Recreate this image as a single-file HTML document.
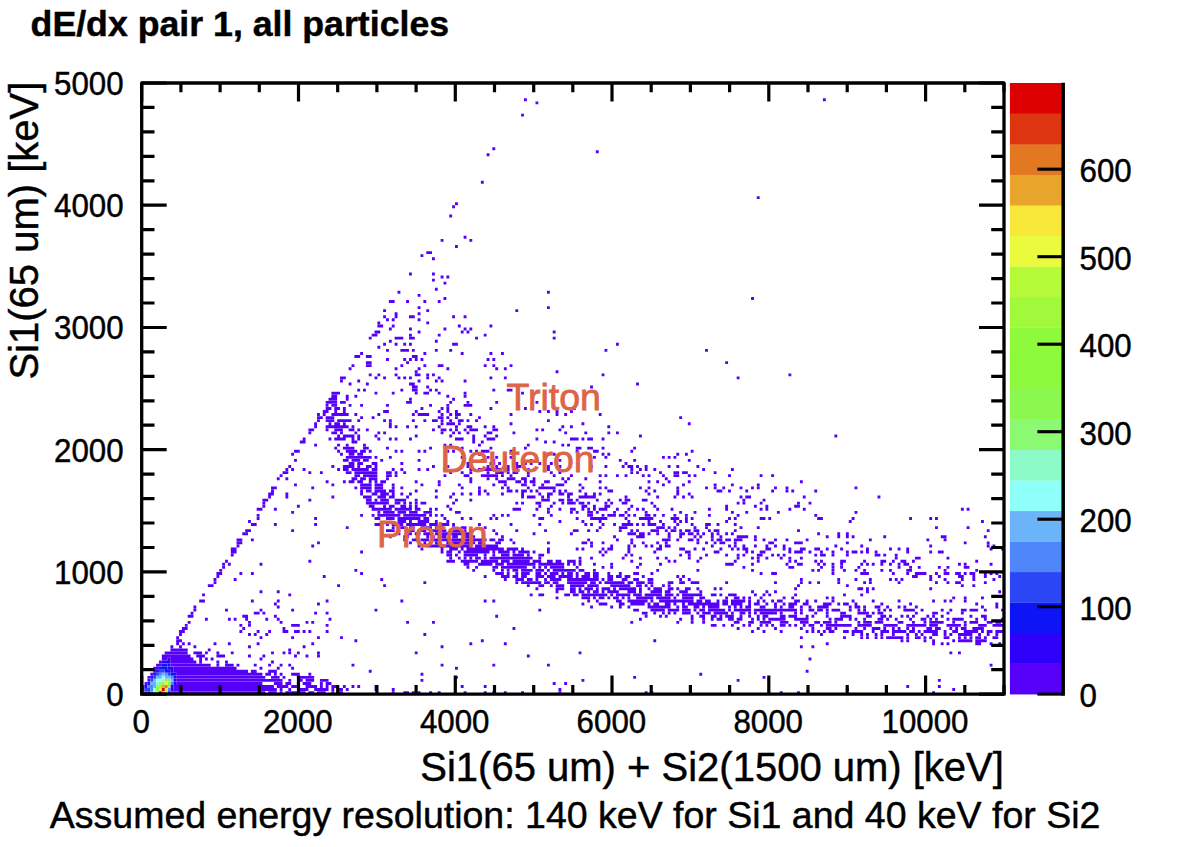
<!DOCTYPE html>
<html><head><meta charset="utf-8"><title>dE/dx pair 1, all particles</title>
<style>html,body{margin:0;padding:0;background:#fff;}svg{display:block;}text{font-family:"Liberation Sans",sans-serif;fill:#000;stroke:#000;stroke-width:0.45px;}</style></head><body>
<svg width="1181" height="847" viewBox="0 0 1181 847">
<rect x="0" y="0" width="1181" height="847" fill="#fff"/>
<g shape-rendering="auto">
<path fill="#5600FA" d="M141.70 691.17h2.87v2.90h-2.87zM170.44 691.17h94.85v2.90h-94.85zM268.17 691.17h8.62v2.90h-8.62zM279.67 691.17h2.87v2.90h-2.87zM285.42 691.17h20.12v2.90h-20.12zM308.41 691.17h5.75v2.90h-5.75zM317.03 691.17h8.62v2.90h-8.62zM331.41 691.17h2.87v2.90h-2.87zM337.15 691.17h5.75v2.90h-5.75zM391.77 691.17h2.87v2.90h-2.87zM403.26 691.17h5.75v2.90h-5.75zM411.89 691.17h2.87v2.90h-2.87zM417.64 691.17h2.87v2.90h-2.87zM429.13 691.17h2.87v2.90h-2.87zM437.76 691.17h2.87v2.90h-2.87zM463.63 691.17h2.87v2.90h-2.87zM483.75 691.17h2.87v2.90h-2.87zM492.37 691.17h2.87v2.90h-2.87zM503.87 691.17h2.87v2.90h-2.87zM521.11 691.17h2.87v2.90h-2.87zM558.48 691.17h2.87v2.90h-2.87zM644.71 691.17h2.87v2.90h-2.87zM650.46 691.17h2.87v2.90h-2.87zM779.80 691.17h2.87v2.90h-2.87zM797.05 691.17h2.87v2.90h-2.87zM932.14 691.17h2.87v2.90h-2.87zM141.70 688.12h2.87v2.90h-2.87zM173.32 688.12h103.48v2.90h-103.48zM279.67 688.12h2.87v2.90h-2.87zM288.29 688.12h2.87v2.90h-2.87zM299.79 688.12h8.62v2.90h-8.62zM314.16 688.12h14.37v2.90h-14.37zM331.41 688.12h2.87v2.90h-2.87zM337.15 688.12h5.75v2.90h-5.75zM345.78 688.12h2.87v2.90h-2.87zM374.52 688.12h2.87v2.90h-2.87zM391.77 688.12h2.87v2.90h-2.87zM558.48 688.12h2.87v2.90h-2.87zM845.91 688.12h2.87v2.90h-2.87zM952.26 688.12h2.87v2.90h-2.87zM141.70 685.06h2.87v2.90h-2.87zM173.32 685.06h100.60v2.90h-100.60zM276.79 685.06h11.50v2.90h-11.50zM291.17 685.06h5.75v2.90h-5.75zM305.54 685.06h11.50v2.90h-11.50zM319.91 685.06h2.87v2.90h-2.87zM325.66 685.06h2.87v2.90h-2.87zM331.41 685.06h5.75v2.90h-5.75zM342.90 685.06h2.87v2.90h-2.87zM351.53 685.06h2.87v2.90h-2.87zM357.27 685.06h2.87v2.90h-2.87zM374.52 685.06h2.87v2.90h-2.87zM460.75 685.06h2.87v2.90h-2.87zM483.75 685.06h2.87v2.90h-2.87zM906.27 685.06h2.87v2.90h-2.87zM937.89 685.06h2.87v2.90h-2.87zM144.57 682.01h2.87v2.90h-2.87zM176.19 682.01h86.23v2.90h-86.23zM273.92 682.01h8.62v2.90h-8.62zM285.42 682.01h5.75v2.90h-5.75zM296.91 682.01h2.87v2.90h-2.87zM302.66 682.01h8.62v2.90h-8.62zM319.91 682.01h2.87v2.90h-2.87zM325.66 682.01h5.75v2.90h-5.75zM552.73 682.01h2.87v2.90h-2.87zM564.23 682.01h2.87v2.90h-2.87zM147.45 678.95h2.87v2.90h-2.87zM176.19 678.95h106.35v2.90h-106.35zM288.29 678.95h2.87v2.90h-2.87zM299.79 678.95h2.87v2.90h-2.87zM305.54 678.95h8.62v2.90h-8.62zM319.91 678.95h8.62v2.90h-8.62zM420.51 678.95h2.87v2.90h-2.87zM581.47 678.95h2.87v2.90h-2.87zM736.69 678.95h2.87v2.90h-2.87zM937.89 678.95h2.87v2.90h-2.87zM147.45 675.90h2.87v2.90h-2.87zM176.19 675.90h89.10v2.90h-89.10zM271.04 675.90h8.62v2.90h-8.62zM282.54 675.90h2.87v2.90h-2.87zM296.91 675.90h17.25v2.90h-17.25zM455.00 675.90h2.87v2.90h-2.87zM633.21 675.90h2.87v2.90h-2.87zM762.56 675.90h2.87v2.90h-2.87zM150.32 672.84h2.87v2.90h-2.87zM176.19 672.84h86.23v2.90h-86.23zM265.30 672.84h5.75v2.90h-5.75zM273.92 672.84h2.87v2.90h-2.87zM279.67 672.84h2.87v2.90h-2.87zM291.17 672.84h8.62v2.90h-8.62zM308.41 672.84h2.87v2.90h-2.87zM420.51 672.84h2.87v2.90h-2.87zM699.32 672.84h2.87v2.90h-2.87zM153.20 669.78h2.87v2.90h-2.87zM173.32 669.78h74.73v2.90h-74.73zM250.92 669.78h5.75v2.90h-5.75zM268.17 669.78h8.62v2.90h-8.62zM368.77 669.78h2.87v2.90h-2.87zM805.67 669.78h2.87v2.90h-2.87zM153.20 666.73h5.75v2.90h-5.75zM173.32 666.73h63.24v2.90h-63.24zM259.55 666.73h2.87v2.90h-2.87zM276.79 666.73h2.87v2.90h-2.87zM291.17 666.73h2.87v2.90h-2.87zM455.00 666.73h2.87v2.90h-2.87zM156.07 663.67h5.75v2.90h-5.75zM170.44 663.67h40.24v2.90h-40.24zM216.43 663.67h2.87v2.90h-2.87zM225.06 663.67h8.62v2.90h-8.62zM236.55 663.67h2.87v2.90h-2.87zM253.80 663.67h2.87v2.90h-2.87zM268.17 663.67h2.87v2.90h-2.87zM279.67 663.67h2.87v2.90h-2.87zM288.29 663.67h2.87v2.90h-2.87zM351.53 663.67h2.87v2.90h-2.87zM440.63 663.67h2.87v2.90h-2.87zM492.37 663.67h2.87v2.90h-2.87zM546.98 663.67h2.87v2.90h-2.87zM989.63 663.67h2.87v2.90h-2.87zM158.95 660.62h2.87v2.90h-2.87zM170.44 660.62h25.87v2.90h-25.87zM199.19 660.62h2.87v2.90h-2.87zM216.43 660.62h2.87v2.90h-2.87zM225.06 660.62h2.87v2.90h-2.87zM271.04 660.62h2.87v2.90h-2.87zM161.82 657.56h5.75v2.90h-5.75zM170.44 657.56h22.99v2.90h-22.99zM199.19 657.56h2.87v2.90h-2.87zM204.94 657.56h2.87v2.90h-2.87zM210.68 657.56h2.87v2.90h-2.87zM259.55 657.56h2.87v2.90h-2.87zM808.55 657.56h2.87v2.90h-2.87zM161.82 654.51h28.74v2.90h-28.74zM196.31 654.51h8.62v2.90h-8.62zM216.43 654.51h8.62v2.90h-8.62zM248.05 654.51h2.87v2.90h-2.87zM262.42 654.51h2.87v2.90h-2.87zM294.04 654.51h2.87v2.90h-2.87zM305.54 654.51h2.87v2.90h-2.87zM317.03 654.51h2.87v2.90h-2.87zM526.86 654.51h2.87v2.90h-2.87zM164.69 651.45h22.99v2.90h-22.99zM193.44 651.45h8.62v2.90h-8.62zM204.94 651.45h2.87v2.90h-2.87zM216.43 651.45h2.87v2.90h-2.87zM230.80 651.45h2.87v2.90h-2.87zM271.04 651.45h2.87v2.90h-2.87zM282.54 651.45h2.87v2.90h-2.87zM288.29 651.45h2.87v2.90h-2.87zM296.91 651.45h2.87v2.90h-2.87zM317.03 651.45h2.87v2.90h-2.87zM414.76 651.45h2.87v2.90h-2.87zM578.60 651.45h2.87v2.90h-2.87zM949.39 651.45h2.87v2.90h-2.87zM958.01 651.45h2.87v2.90h-2.87zM170.44 648.39h17.25v2.90h-17.25zM207.81 648.39h2.87v2.90h-2.87zM288.29 648.39h2.87v2.90h-2.87zM170.44 645.34h2.87v2.90h-2.87zM179.07 645.34h2.87v2.90h-2.87zM193.44 645.34h2.87v2.90h-2.87zM248.05 645.34h2.87v2.90h-2.87zM302.66 645.34h2.87v2.90h-2.87zM440.63 645.34h2.87v2.90h-2.87zM799.92 645.34h2.87v2.90h-2.87zM811.42 645.34h2.87v2.90h-2.87zM176.19 642.28h2.87v2.90h-2.87zM181.94 642.28h2.87v2.90h-2.87zM187.69 642.28h2.87v2.90h-2.87zM213.56 642.28h2.87v2.90h-2.87zM227.93 642.28h2.87v2.90h-2.87zM256.67 642.28h2.87v2.90h-2.87zM311.29 642.28h2.87v2.90h-2.87zM469.37 642.28h2.87v2.90h-2.87zM503.87 642.28h2.87v2.90h-2.87zM825.79 642.28h2.87v2.90h-2.87zM932.14 642.28h2.87v2.90h-2.87zM940.76 642.28h2.87v2.90h-2.87zM946.51 642.28h2.87v2.90h-2.87zM975.26 642.28h5.75v2.90h-5.75zM989.63 642.28h2.87v2.90h-2.87zM998.25 642.28h2.87v2.90h-2.87zM176.19 639.23h5.75v2.90h-5.75zM354.40 639.23h2.87v2.90h-2.87zM480.87 639.23h2.87v2.90h-2.87zM653.33 639.23h2.87v2.90h-2.87zM900.52 639.23h2.87v2.90h-2.87zM906.27 639.23h2.87v2.90h-2.87zM923.52 639.23h2.87v2.90h-2.87zM932.14 639.23h2.87v2.90h-2.87zM952.26 639.23h2.87v2.90h-2.87zM958.01 639.23h14.37v2.90h-14.37zM975.26 639.23h11.50v2.90h-11.50zM176.19 636.17h2.87v2.90h-2.87zM259.55 636.17h2.87v2.90h-2.87zM291.17 636.17h2.87v2.90h-2.87zM317.03 636.17h2.87v2.90h-2.87zM340.03 636.17h2.87v2.90h-2.87zM799.92 636.17h2.87v2.90h-2.87zM843.04 636.17h2.87v2.90h-2.87zM860.28 636.17h2.87v2.90h-2.87zM866.03 636.17h2.87v2.90h-2.87zM874.65 636.17h2.87v2.90h-2.87zM880.40 636.17h2.87v2.90h-2.87zM886.15 636.17h17.25v2.90h-17.25zM906.27 636.17h2.87v2.90h-2.87zM914.90 636.17h5.75v2.90h-5.75zM923.52 636.17h2.87v2.90h-2.87zM929.27 636.17h2.87v2.90h-2.87zM943.64 636.17h5.75v2.90h-5.75zM958.01 636.17h2.87v2.90h-2.87zM963.76 636.17h2.87v2.90h-2.87zM969.51 636.17h2.87v2.90h-2.87zM975.26 636.17h5.75v2.90h-5.75zM983.88 636.17h2.87v2.90h-2.87zM992.50 636.17h5.75v2.90h-5.75zM179.07 633.12h2.87v2.90h-2.87zM248.05 633.12h2.87v2.90h-2.87zM253.80 633.12h2.87v2.90h-2.87zM265.30 633.12h2.87v2.90h-2.87zM423.38 633.12h2.87v2.90h-2.87zM820.04 633.12h2.87v2.90h-2.87zM851.66 633.12h2.87v2.90h-2.87zM860.28 633.12h2.87v2.90h-2.87zM866.03 633.12h2.87v2.90h-2.87zM874.65 633.12h2.87v2.90h-2.87zM880.40 633.12h2.87v2.90h-2.87zM891.90 633.12h2.87v2.90h-2.87zM906.27 633.12h2.87v2.90h-2.87zM914.90 633.12h2.87v2.90h-2.87zM920.64 633.12h2.87v2.90h-2.87zM932.14 633.12h5.75v2.90h-5.75zM943.64 633.12h2.87v2.90h-2.87zM949.39 633.12h2.87v2.90h-2.87zM958.01 633.12h14.37v2.90h-14.37zM978.13 633.12h2.87v2.90h-2.87zM986.75 633.12h2.87v2.90h-2.87zM995.38 633.12h2.87v2.90h-2.87zM179.07 630.06h5.75v2.90h-5.75zM239.43 630.06h2.87v2.90h-2.87zM256.67 630.06h2.87v2.90h-2.87zM268.17 630.06h2.87v2.90h-2.87zM282.54 630.06h5.75v2.90h-5.75zM294.04 630.06h5.75v2.90h-5.75zM302.66 630.06h2.87v2.90h-2.87zM308.41 630.06h2.87v2.90h-2.87zM325.66 630.06h2.87v2.90h-2.87zM751.06 630.06h2.87v2.90h-2.87zM762.56 630.06h2.87v2.90h-2.87zM779.80 630.06h2.87v2.90h-2.87zM805.67 630.06h2.87v2.90h-2.87zM811.42 630.06h2.87v2.90h-2.87zM817.17 630.06h2.87v2.90h-2.87zM822.92 630.06h2.87v2.90h-2.87zM828.67 630.06h5.75v2.90h-5.75zM843.04 630.06h5.75v2.90h-5.75zM851.66 630.06h11.50v2.90h-11.50zM871.78 630.06h2.87v2.90h-2.87zM880.40 630.06h8.62v2.90h-8.62zM891.90 630.06h14.37v2.90h-14.37zM909.15 630.06h5.75v2.90h-5.75zM917.77 630.06h2.87v2.90h-2.87zM923.52 630.06h14.37v2.90h-14.37zM943.64 630.06h2.87v2.90h-2.87zM952.26 630.06h5.75v2.90h-5.75zM963.76 630.06h14.37v2.90h-14.37zM981.01 630.06h2.87v2.90h-2.87zM986.75 630.06h5.75v2.90h-5.75zM995.38 630.06h8.62v2.90h-8.62zM181.94 627.00h5.75v2.90h-5.75zM242.30 627.00h2.87v2.90h-2.87zM282.54 627.00h2.87v2.90h-2.87zM512.49 627.00h2.87v2.90h-2.87zM736.69 627.00h2.87v2.90h-2.87zM756.81 627.00h2.87v2.90h-2.87zM774.05 627.00h2.87v2.90h-2.87zM799.92 627.00h2.87v2.90h-2.87zM811.42 627.00h2.87v2.90h-2.87zM825.79 627.00h5.75v2.90h-5.75zM834.41 627.00h2.87v2.90h-2.87zM854.53 627.00h2.87v2.90h-2.87zM863.16 627.00h2.87v2.90h-2.87zM871.78 627.00h8.62v2.90h-8.62zM883.28 627.00h2.87v2.90h-2.87zM891.90 627.00h2.87v2.90h-2.87zM897.65 627.00h2.87v2.90h-2.87zM906.27 627.00h2.87v2.90h-2.87zM912.02 627.00h2.87v2.90h-2.87zM926.39 627.00h5.75v2.90h-5.75zM935.02 627.00h5.75v2.90h-5.75zM949.39 627.00h2.87v2.90h-2.87zM955.14 627.00h2.87v2.90h-2.87zM960.88 627.00h5.75v2.90h-5.75zM972.38 627.00h11.50v2.90h-11.50zM184.81 623.95h2.87v2.90h-2.87zM239.43 623.95h2.87v2.90h-2.87zM248.05 623.95h2.87v2.90h-2.87zM291.17 623.95h8.62v2.90h-8.62zM325.66 623.95h2.87v2.90h-2.87zM710.82 623.95h5.75v2.90h-5.75zM722.32 623.95h2.87v2.90h-2.87zM730.94 623.95h2.87v2.90h-2.87zM742.44 623.95h2.87v2.90h-2.87zM748.18 623.95h2.87v2.90h-2.87zM759.68 623.95h2.87v2.90h-2.87zM765.43 623.95h2.87v2.90h-2.87zM771.18 623.95h2.87v2.90h-2.87zM779.80 623.95h5.75v2.90h-5.75zM788.42 623.95h2.87v2.90h-2.87zM794.17 623.95h2.87v2.90h-2.87zM802.80 623.95h2.87v2.90h-2.87zM808.55 623.95h5.75v2.90h-5.75zM820.04 623.95h2.87v2.90h-2.87zM825.79 623.95h25.87v2.90h-25.87zM857.41 623.95h14.37v2.90h-14.37zM883.28 623.95h14.37v2.90h-14.37zM906.27 623.95h20.12v2.90h-20.12zM929.27 623.95h8.62v2.90h-8.62zM946.51 623.95h14.37v2.90h-14.37zM963.76 623.95h2.87v2.90h-2.87zM978.13 623.95h8.62v2.90h-8.62zM992.50 623.95h11.50v2.90h-11.50zM187.69 620.89h2.87v2.90h-2.87zM248.05 620.89h2.87v2.90h-2.87zM279.67 620.89h2.87v2.90h-2.87zM305.54 620.89h2.87v2.90h-2.87zM311.29 620.89h2.87v2.90h-2.87zM406.14 620.89h2.87v2.90h-2.87zM432.01 620.89h2.87v2.90h-2.87zM630.34 620.89h2.87v2.90h-2.87zM676.33 620.89h2.87v2.90h-2.87zM690.70 620.89h2.87v2.90h-2.87zM702.19 620.89h2.87v2.90h-2.87zM733.81 620.89h5.75v2.90h-5.75zM748.18 620.89h5.75v2.90h-5.75zM759.68 620.89h11.50v2.90h-11.50zM779.80 620.89h8.62v2.90h-8.62zM799.92 620.89h8.62v2.90h-8.62zM814.29 620.89h5.75v2.90h-5.75zM822.92 620.89h8.62v2.90h-8.62zM834.41 620.89h2.87v2.90h-2.87zM857.41 620.89h2.87v2.90h-2.87zM863.16 620.89h8.62v2.90h-8.62zM874.65 620.89h8.62v2.90h-8.62zM897.65 620.89h5.75v2.90h-5.75zM912.02 620.89h2.87v2.90h-2.87zM923.52 620.89h2.87v2.90h-2.87zM929.27 620.89h14.37v2.90h-14.37zM952.26 620.89h2.87v2.90h-2.87zM963.76 620.89h2.87v2.90h-2.87zM969.51 620.89h8.62v2.90h-8.62zM986.75 620.89h5.75v2.90h-5.75zM995.38 620.89h5.75v2.90h-5.75zM204.94 617.84h2.87v2.90h-2.87zM227.93 617.84h2.87v2.90h-2.87zM233.68 617.84h2.87v2.90h-2.87zM245.18 617.84h2.87v2.90h-2.87zM265.30 617.84h2.87v2.90h-2.87zM276.79 617.84h2.87v2.90h-2.87zM328.53 617.84h2.87v2.90h-2.87zM638.96 617.84h2.87v2.90h-2.87zM679.20 617.84h2.87v2.90h-2.87zM690.70 617.84h2.87v2.90h-2.87zM702.19 617.84h2.87v2.90h-2.87zM710.82 617.84h2.87v2.90h-2.87zM716.57 617.84h5.75v2.90h-5.75zM728.06 617.84h5.75v2.90h-5.75zM736.69 617.84h5.75v2.90h-5.75zM751.06 617.84h2.87v2.90h-2.87zM756.81 617.84h2.87v2.90h-2.87zM762.56 617.84h2.87v2.90h-2.87zM768.30 617.84h17.25v2.90h-17.25zM794.17 617.84h14.37v2.90h-14.37zM828.67 617.84h2.87v2.90h-2.87zM834.41 617.84h8.62v2.90h-8.62zM848.79 617.84h2.87v2.90h-2.87zM854.53 617.84h2.87v2.90h-2.87zM863.16 617.84h2.87v2.90h-2.87zM877.53 617.84h5.75v2.90h-5.75zM886.15 617.84h2.87v2.90h-2.87zM894.78 617.84h2.87v2.90h-2.87zM909.15 617.84h2.87v2.90h-2.87zM920.64 617.84h5.75v2.90h-5.75zM929.27 617.84h2.87v2.90h-2.87zM935.02 617.84h2.87v2.90h-2.87zM946.51 617.84h2.87v2.90h-2.87zM952.26 617.84h11.50v2.90h-11.50zM975.26 617.84h2.87v2.90h-2.87zM983.88 617.84h2.87v2.90h-2.87zM1001.13 617.84h2.87v2.90h-2.87zM187.69 614.78h5.75v2.90h-5.75zM242.30 614.78h5.75v2.90h-5.75zM273.92 614.78h2.87v2.90h-2.87zM495.24 614.78h2.87v2.90h-2.87zM644.71 614.78h2.87v2.90h-2.87zM659.08 614.78h2.87v2.90h-2.87zM664.83 614.78h2.87v2.90h-2.87zM690.70 614.78h2.87v2.90h-2.87zM699.32 614.78h5.75v2.90h-5.75zM710.82 614.78h5.75v2.90h-5.75zM719.44 614.78h2.87v2.90h-2.87zM725.19 614.78h8.62v2.90h-8.62zM739.56 614.78h2.87v2.90h-2.87zM748.18 614.78h2.87v2.90h-2.87zM756.81 614.78h2.87v2.90h-2.87zM762.56 614.78h5.75v2.90h-5.75zM779.80 614.78h5.75v2.90h-5.75zM788.42 614.78h8.62v2.90h-8.62zM805.67 614.78h2.87v2.90h-2.87zM811.42 614.78h2.87v2.90h-2.87zM825.79 614.78h2.87v2.90h-2.87zM840.16 614.78h11.50v2.90h-11.50zM866.03 614.78h5.75v2.90h-5.75zM880.40 614.78h5.75v2.90h-5.75zM889.03 614.78h2.87v2.90h-2.87zM900.52 614.78h2.87v2.90h-2.87zM906.27 614.78h2.87v2.90h-2.87zM912.02 614.78h2.87v2.90h-2.87zM926.39 614.78h2.87v2.90h-2.87zM932.14 614.78h2.87v2.90h-2.87zM940.76 614.78h2.87v2.90h-2.87zM969.51 614.78h2.87v2.90h-2.87zM981.01 614.78h5.75v2.90h-5.75zM190.56 611.72h2.87v2.90h-2.87zM253.80 611.72h5.75v2.90h-5.75zM262.42 611.72h2.87v2.90h-2.87zM314.16 611.72h2.87v2.90h-2.87zM325.66 611.72h2.87v2.90h-2.87zM641.83 611.72h5.75v2.90h-5.75zM653.33 611.72h2.87v2.90h-2.87zM661.95 611.72h2.87v2.90h-2.87zM667.70 611.72h2.87v2.90h-2.87zM673.45 611.72h2.87v2.90h-2.87zM682.07 611.72h8.62v2.90h-8.62zM696.45 611.72h2.87v2.90h-2.87zM702.19 611.72h8.62v2.90h-8.62zM713.69 611.72h14.37v2.90h-14.37zM730.94 611.72h2.87v2.90h-2.87zM739.56 611.72h5.75v2.90h-5.75zM748.18 611.72h2.87v2.90h-2.87zM753.93 611.72h2.87v2.90h-2.87zM759.68 611.72h17.25v2.90h-17.25zM779.80 611.72h2.87v2.90h-2.87zM794.17 611.72h2.87v2.90h-2.87zM799.92 611.72h2.87v2.90h-2.87zM814.29 611.72h2.87v2.90h-2.87zM825.79 611.72h2.87v2.90h-2.87zM840.16 611.72h5.75v2.90h-5.75zM857.41 611.72h11.50v2.90h-11.50zM871.78 611.72h2.87v2.90h-2.87zM877.53 611.72h5.75v2.90h-5.75zM914.90 611.72h2.87v2.90h-2.87zM932.14 611.72h5.75v2.90h-5.75zM946.51 611.72h2.87v2.90h-2.87zM960.88 611.72h2.87v2.90h-2.87zM193.44 608.67h2.87v2.90h-2.87zM225.06 608.67h2.87v2.90h-2.87zM259.55 608.67h2.87v2.90h-2.87zM291.17 608.67h2.87v2.90h-2.87zM374.52 608.67h2.87v2.90h-2.87zM538.36 608.67h2.87v2.90h-2.87zM633.21 608.67h5.75v2.90h-5.75zM650.46 608.67h14.37v2.90h-14.37zM667.70 608.67h11.50v2.90h-11.50zM682.07 608.67h8.62v2.90h-8.62zM693.57 608.67h2.87v2.90h-2.87zM699.32 608.67h5.75v2.90h-5.75zM707.94 608.67h17.25v2.90h-17.25zM728.06 608.67h2.87v2.90h-2.87zM733.81 608.67h17.25v2.90h-17.25zM753.93 608.67h43.11v2.90h-43.11zM799.92 608.67h2.87v2.90h-2.87zM808.55 608.67h5.75v2.90h-5.75zM817.17 608.67h5.75v2.90h-5.75zM825.79 608.67h2.87v2.90h-2.87zM831.54 608.67h8.62v2.90h-8.62zM848.79 608.67h2.87v2.90h-2.87zM857.41 608.67h2.87v2.90h-2.87zM863.16 608.67h2.87v2.90h-2.87zM877.53 608.67h2.87v2.90h-2.87zM883.28 608.67h2.87v2.90h-2.87zM889.03 608.67h2.87v2.90h-2.87zM903.40 608.67h11.50v2.90h-11.50zM920.64 608.67h2.87v2.90h-2.87zM940.76 608.67h2.87v2.90h-2.87zM949.39 608.67h2.87v2.90h-2.87zM960.88 608.67h5.75v2.90h-5.75zM969.51 608.67h8.62v2.90h-8.62zM983.88 608.67h2.87v2.90h-2.87zM1001.13 608.67h2.87v2.90h-2.87zM193.44 605.61h2.87v2.90h-2.87zM276.79 605.61h2.87v2.90h-2.87zM590.10 605.61h2.87v2.90h-2.87zM610.22 605.61h2.87v2.90h-2.87zM618.84 605.61h2.87v2.90h-2.87zM627.46 605.61h2.87v2.90h-2.87zM647.58 605.61h22.99v2.90h-22.99zM676.33 605.61h2.87v2.90h-2.87zM682.07 605.61h5.75v2.90h-5.75zM693.57 605.61h5.75v2.90h-5.75zM702.19 605.61h2.87v2.90h-2.87zM707.94 605.61h11.50v2.90h-11.50zM728.06 605.61h2.87v2.90h-2.87zM733.81 605.61h2.87v2.90h-2.87zM739.56 605.61h2.87v2.90h-2.87zM745.31 605.61h5.75v2.90h-5.75zM759.68 605.61h5.75v2.90h-5.75zM774.05 605.61h2.87v2.90h-2.87zM779.80 605.61h2.87v2.90h-2.87zM788.42 605.61h5.75v2.90h-5.75zM799.92 605.61h2.87v2.90h-2.87zM808.55 605.61h2.87v2.90h-2.87zM817.17 605.61h11.50v2.90h-11.50zM848.79 605.61h2.87v2.90h-2.87zM854.53 605.61h5.75v2.90h-5.75zM863.16 605.61h2.87v2.90h-2.87zM874.65 605.61h5.75v2.90h-5.75zM886.15 605.61h2.87v2.90h-2.87zM897.65 605.61h2.87v2.90h-2.87zM903.40 605.61h2.87v2.90h-2.87zM914.90 605.61h2.87v2.90h-2.87zM981.01 605.61h2.87v2.90h-2.87zM995.38 605.61h2.87v2.90h-2.87zM273.92 602.56h2.87v2.90h-2.87zM317.03 602.56h2.87v2.90h-2.87zM581.47 602.56h2.87v2.90h-2.87zM598.72 602.56h8.62v2.90h-8.62zM618.84 602.56h5.75v2.90h-5.75zM630.34 602.56h14.37v2.90h-14.37zM647.58 602.56h2.87v2.90h-2.87zM653.33 602.56h5.75v2.90h-5.75zM664.83 602.56h5.75v2.90h-5.75zM673.45 602.56h2.87v2.90h-2.87zM682.07 602.56h2.87v2.90h-2.87zM687.82 602.56h31.62v2.90h-31.62zM722.32 602.56h5.75v2.90h-5.75zM730.94 602.56h11.50v2.90h-11.50zM748.18 602.56h2.87v2.90h-2.87zM753.93 602.56h5.75v2.90h-5.75zM765.43 602.56h2.87v2.90h-2.87zM774.05 602.56h2.87v2.90h-2.87zM782.68 602.56h2.87v2.90h-2.87zM788.42 602.56h8.62v2.90h-8.62zM802.80 602.56h5.75v2.90h-5.75zM822.92 602.56h8.62v2.90h-8.62zM837.29 602.56h2.87v2.90h-2.87zM843.04 602.56h5.75v2.90h-5.75zM854.53 602.56h2.87v2.90h-2.87zM880.40 602.56h2.87v2.90h-2.87zM909.15 602.56h2.87v2.90h-2.87zM975.26 602.56h2.87v2.90h-2.87zM995.38 602.56h2.87v2.90h-2.87zM199.19 599.50h5.75v2.90h-5.75zM250.92 599.50h2.87v2.90h-2.87zM276.79 599.50h2.87v2.90h-2.87zM325.66 599.50h2.87v2.90h-2.87zM400.39 599.50h2.87v2.90h-2.87zM483.75 599.50h2.87v2.90h-2.87zM492.37 599.50h2.87v2.90h-2.87zM587.22 599.50h2.87v2.90h-2.87zM595.84 599.50h2.87v2.90h-2.87zM615.96 599.50h5.75v2.90h-5.75zM627.46 599.50h20.12v2.90h-20.12zM650.46 599.50h2.87v2.90h-2.87zM659.08 599.50h34.49v2.90h-34.49zM696.45 599.50h5.75v2.90h-5.75zM705.07 599.50h5.75v2.90h-5.75zM716.57 599.50h2.87v2.90h-2.87zM722.32 599.50h5.75v2.90h-5.75zM730.94 599.50h14.37v2.90h-14.37zM748.18 599.50h2.87v2.90h-2.87zM756.81 599.50h2.87v2.90h-2.87zM762.56 599.50h2.87v2.90h-2.87zM771.18 599.50h2.87v2.90h-2.87zM776.93 599.50h5.75v2.90h-5.75zM794.17 599.50h5.75v2.90h-5.75zM805.67 599.50h2.87v2.90h-2.87zM814.29 599.50h2.87v2.90h-2.87zM831.54 599.50h2.87v2.90h-2.87zM851.66 599.50h2.87v2.90h-2.87zM871.78 599.50h2.87v2.90h-2.87zM897.65 599.50h2.87v2.90h-2.87zM932.14 599.50h2.87v2.90h-2.87zM943.64 599.50h2.87v2.90h-2.87zM949.39 599.50h2.87v2.90h-2.87zM963.76 599.50h2.87v2.90h-2.87zM555.60 596.45h2.87v2.90h-2.87zM581.47 596.45h8.62v2.90h-8.62zM592.97 596.45h2.87v2.90h-2.87zM598.72 596.45h5.75v2.90h-5.75zM607.34 596.45h2.87v2.90h-2.87zM613.09 596.45h5.75v2.90h-5.75zM621.71 596.45h2.87v2.90h-2.87zM627.46 596.45h2.87v2.90h-2.87zM636.09 596.45h17.25v2.90h-17.25zM656.21 596.45h14.37v2.90h-14.37zM673.45 596.45h2.87v2.90h-2.87zM682.07 596.45h11.50v2.90h-11.50zM699.32 596.45h5.75v2.90h-5.75zM725.19 596.45h2.87v2.90h-2.87zM733.81 596.45h5.75v2.90h-5.75zM742.44 596.45h2.87v2.90h-2.87zM748.18 596.45h2.87v2.90h-2.87zM759.68 596.45h2.87v2.90h-2.87zM782.68 596.45h2.87v2.90h-2.87zM791.30 596.45h2.87v2.90h-2.87zM825.79 596.45h2.87v2.90h-2.87zM831.54 596.45h2.87v2.90h-2.87zM952.26 596.45h2.87v2.90h-2.87zM963.76 596.45h2.87v2.90h-2.87zM981.01 596.45h2.87v2.90h-2.87zM202.06 593.39h2.87v2.90h-2.87zM288.29 593.39h2.87v2.90h-2.87zM529.73 593.39h2.87v2.90h-2.87zM538.36 593.39h5.75v2.90h-5.75zM564.23 593.39h5.75v2.90h-5.75zM572.85 593.39h5.75v2.90h-5.75zM581.47 593.39h25.87v2.90h-25.87zM610.22 593.39h2.87v2.90h-2.87zM615.96 593.39h14.37v2.90h-14.37zM633.21 593.39h8.62v2.90h-8.62zM644.71 593.39h17.25v2.90h-17.25zM664.83 593.39h8.62v2.90h-8.62zM676.33 593.39h2.87v2.90h-2.87zM682.07 593.39h20.12v2.90h-20.12zM710.82 593.39h5.75v2.90h-5.75zM719.44 593.39h2.87v2.90h-2.87zM728.06 593.39h8.62v2.90h-8.62zM753.93 593.39h2.87v2.90h-2.87zM762.56 593.39h2.87v2.90h-2.87zM768.30 593.39h2.87v2.90h-2.87zM794.17 593.39h2.87v2.90h-2.87zM843.04 593.39h2.87v2.90h-2.87zM860.28 593.39h2.87v2.90h-2.87zM259.55 590.33h2.87v2.90h-2.87zM276.79 590.33h2.87v2.90h-2.87zM555.60 590.33h2.87v2.90h-2.87zM569.98 590.33h5.75v2.90h-5.75zM578.60 590.33h5.75v2.90h-5.75zM587.22 590.33h2.87v2.90h-2.87zM592.97 590.33h5.75v2.90h-5.75zM601.59 590.33h2.87v2.90h-2.87zM607.34 590.33h11.50v2.90h-11.50zM627.46 590.33h8.62v2.90h-8.62zM638.96 590.33h2.87v2.90h-2.87zM650.46 590.33h11.50v2.90h-11.50zM664.83 590.33h5.75v2.90h-5.75zM679.20 590.33h8.62v2.90h-8.62zM699.32 590.33h2.87v2.90h-2.87zM751.06 590.33h2.87v2.90h-2.87zM765.43 590.33h2.87v2.90h-2.87zM774.05 590.33h2.87v2.90h-2.87zM866.03 590.33h2.87v2.90h-2.87zM998.25 590.33h2.87v2.90h-2.87zM535.48 587.28h2.87v2.90h-2.87zM555.60 587.28h8.62v2.90h-8.62zM569.98 587.28h5.75v2.90h-5.75zM578.60 587.28h2.87v2.90h-2.87zM584.35 587.28h8.62v2.90h-8.62zM595.84 587.28h2.87v2.90h-2.87zM601.59 587.28h8.62v2.90h-8.62zM613.09 587.28h2.87v2.90h-2.87zM618.84 587.28h17.25v2.90h-17.25zM638.96 587.28h2.87v2.90h-2.87zM647.58 587.28h2.87v2.90h-2.87zM653.33 587.28h8.62v2.90h-8.62zM667.70 587.28h5.75v2.90h-5.75zM676.33 587.28h2.87v2.90h-2.87zM684.95 587.28h5.75v2.90h-5.75zM696.45 587.28h2.87v2.90h-2.87zM713.69 587.28h2.87v2.90h-2.87zM719.44 587.28h2.87v2.90h-2.87zM794.17 587.28h2.87v2.90h-2.87zM857.41 587.28h5.75v2.90h-5.75zM866.03 587.28h2.87v2.90h-2.87zM871.78 587.28h2.87v2.90h-2.87zM929.27 587.28h2.87v2.90h-2.87zM207.81 584.22h5.75v2.90h-5.75zM337.15 584.22h2.87v2.90h-2.87zM383.14 584.22h2.87v2.90h-2.87zM526.86 584.22h2.87v2.90h-2.87zM538.36 584.22h5.75v2.90h-5.75zM549.86 584.22h2.87v2.90h-2.87zM555.60 584.22h8.62v2.90h-8.62zM569.98 584.22h14.37v2.90h-14.37zM587.22 584.22h11.50v2.90h-11.50zM610.22 584.22h20.12v2.90h-20.12zM636.09 584.22h5.75v2.90h-5.75zM644.71 584.22h2.87v2.90h-2.87zM650.46 584.22h2.87v2.90h-2.87zM661.95 584.22h2.87v2.90h-2.87zM667.70 584.22h2.87v2.90h-2.87zM797.05 584.22h2.87v2.90h-2.87zM845.91 584.22h2.87v2.90h-2.87zM960.88 584.22h2.87v2.90h-2.87zM972.38 584.22h2.87v2.90h-2.87zM213.56 581.17h2.87v2.90h-2.87zM423.38 581.17h2.87v2.90h-2.87zM515.36 581.17h2.87v2.90h-2.87zM521.11 581.17h20.12v2.90h-20.12zM544.11 581.17h5.75v2.90h-5.75zM552.73 581.17h5.75v2.90h-5.75zM567.10 581.17h20.12v2.90h-20.12zM590.10 581.17h5.75v2.90h-5.75zM598.72 581.17h2.87v2.90h-2.87zM604.47 581.17h20.12v2.90h-20.12zM627.46 581.17h5.75v2.90h-5.75zM636.09 581.17h8.62v2.90h-8.62zM647.58 581.17h5.75v2.90h-5.75zM667.70 581.17h5.75v2.90h-5.75zM679.20 581.17h5.75v2.90h-5.75zM690.70 581.17h8.62v2.90h-8.62zM725.19 581.17h2.87v2.90h-2.87zM774.05 581.17h2.87v2.90h-2.87zM799.92 581.17h2.87v2.90h-2.87zM808.55 581.17h2.87v2.90h-2.87zM817.17 581.17h2.87v2.90h-2.87zM837.29 581.17h2.87v2.90h-2.87zM863.16 581.17h2.87v2.90h-2.87zM868.91 581.17h2.87v2.90h-2.87zM897.65 581.17h2.87v2.90h-2.87zM935.02 581.17h2.87v2.90h-2.87zM946.51 581.17h2.87v2.90h-2.87zM955.14 581.17h5.75v2.90h-5.75zM983.88 581.17h2.87v2.90h-2.87zM213.56 578.11h2.87v2.90h-2.87zM233.68 578.11h2.87v2.90h-2.87zM380.27 578.11h2.87v2.90h-2.87zM503.87 578.11h2.87v2.90h-2.87zM515.36 578.11h8.62v2.90h-8.62zM526.86 578.11h5.75v2.90h-5.75zM535.48 578.11h2.87v2.90h-2.87zM544.11 578.11h2.87v2.90h-2.87zM549.86 578.11h11.50v2.90h-11.50zM567.10 578.11h31.62v2.90h-31.62zM601.59 578.11h2.87v2.90h-2.87zM607.34 578.11h5.75v2.90h-5.75zM621.71 578.11h5.75v2.90h-5.75zM633.21 578.11h5.75v2.90h-5.75zM647.58 578.11h5.75v2.90h-5.75zM679.20 578.11h2.87v2.90h-2.87zM687.82 578.11h2.87v2.90h-2.87zM799.92 578.11h2.87v2.90h-2.87zM837.29 578.11h2.87v2.90h-2.87zM854.53 578.11h2.87v2.90h-2.87zM868.91 578.11h2.87v2.90h-2.87zM889.03 578.11h2.87v2.90h-2.87zM894.78 578.11h2.87v2.90h-2.87zM900.52 578.11h2.87v2.90h-2.87zM929.27 578.11h2.87v2.90h-2.87zM943.64 578.11h2.87v2.90h-2.87zM960.88 578.11h2.87v2.90h-2.87zM972.38 578.11h2.87v2.90h-2.87zM992.50 578.11h2.87v2.90h-2.87zM216.43 575.06h2.87v2.90h-2.87zM322.78 575.06h2.87v2.90h-2.87zM483.75 575.06h2.87v2.90h-2.87zM500.99 575.06h8.62v2.90h-8.62zM512.49 575.06h5.75v2.90h-5.75zM521.11 575.06h5.75v2.90h-5.75zM535.48 575.06h8.62v2.90h-8.62zM546.98 575.06h8.62v2.90h-8.62zM558.48 575.06h14.37v2.90h-14.37zM575.72 575.06h2.87v2.90h-2.87zM581.47 575.06h8.62v2.90h-8.62zM592.97 575.06h5.75v2.90h-5.75zM607.34 575.06h5.75v2.90h-5.75zM615.96 575.06h5.75v2.90h-5.75zM624.59 575.06h5.75v2.90h-5.75zM641.83 575.06h2.87v2.90h-2.87zM676.33 575.06h2.87v2.90h-2.87zM682.07 575.06h2.87v2.90h-2.87zM912.02 575.06h5.75v2.90h-5.75zM929.27 575.06h2.87v2.90h-2.87zM937.89 575.06h2.87v2.90h-2.87zM958.01 575.06h5.75v2.90h-5.75zM972.38 575.06h2.87v2.90h-2.87zM983.88 575.06h2.87v2.90h-2.87zM998.25 575.06h2.87v2.90h-2.87zM216.43 572.00h5.75v2.90h-5.75zM239.43 572.00h2.87v2.90h-2.87zM250.92 572.00h2.87v2.90h-2.87zM360.15 572.00h2.87v2.90h-2.87zM495.24 572.00h8.62v2.90h-8.62zM506.74 572.00h2.87v2.90h-2.87zM515.36 572.00h2.87v2.90h-2.87zM521.11 572.00h8.62v2.90h-8.62zM535.48 572.00h5.75v2.90h-5.75zM544.11 572.00h2.87v2.90h-2.87zM549.86 572.00h8.62v2.90h-8.62zM561.35 572.00h2.87v2.90h-2.87zM567.10 572.00h5.75v2.90h-5.75zM575.72 572.00h2.87v2.90h-2.87zM584.35 572.00h5.75v2.90h-5.75zM592.97 572.00h5.75v2.90h-5.75zM607.34 572.00h2.87v2.90h-2.87zM618.84 572.00h2.87v2.90h-2.87zM633.21 572.00h5.75v2.90h-5.75zM650.46 572.00h2.87v2.90h-2.87zM759.68 572.00h2.87v2.90h-2.87zM771.18 572.00h5.75v2.90h-5.75zM831.54 572.00h2.87v2.90h-2.87zM860.28 572.00h8.62v2.90h-8.62zM891.90 572.00h2.87v2.90h-2.87zM906.27 572.00h2.87v2.90h-2.87zM914.90 572.00h11.50v2.90h-11.50zM935.02 572.00h2.87v2.90h-2.87zM943.64 572.00h5.75v2.90h-5.75zM955.14 572.00h5.75v2.90h-5.75zM963.76 572.00h2.87v2.90h-2.87zM969.51 572.00h5.75v2.90h-5.75zM983.88 572.00h2.87v2.90h-2.87zM989.63 572.00h2.87v2.90h-2.87zM995.38 572.00h2.87v2.90h-2.87zM219.31 568.94h2.87v2.90h-2.87zM354.40 568.94h2.87v2.90h-2.87zM472.25 568.94h2.87v2.90h-2.87zM492.37 568.94h2.87v2.90h-2.87zM500.99 568.94h2.87v2.90h-2.87zM506.74 568.94h2.87v2.90h-2.87zM512.49 568.94h5.75v2.90h-5.75zM521.11 568.94h11.50v2.90h-11.50zM535.48 568.94h8.62v2.90h-8.62zM546.98 568.94h2.87v2.90h-2.87zM552.73 568.94h22.99v2.90h-22.99zM578.60 568.94h5.75v2.90h-5.75zM592.97 568.94h2.87v2.90h-2.87zM656.21 568.94h2.87v2.90h-2.87zM696.45 568.94h2.87v2.90h-2.87zM751.06 568.94h2.87v2.90h-2.87zM811.42 568.94h2.87v2.90h-2.87zM817.17 568.94h2.87v2.90h-2.87zM831.54 568.94h2.87v2.90h-2.87zM843.04 568.94h2.87v2.90h-2.87zM854.53 568.94h2.87v2.90h-2.87zM863.16 568.94h2.87v2.90h-2.87zM880.40 568.94h2.87v2.90h-2.87zM889.03 568.94h2.87v2.90h-2.87zM906.27 568.94h5.75v2.90h-5.75zM943.64 568.94h2.87v2.90h-2.87zM975.26 568.94h2.87v2.90h-2.87zM222.18 565.89h2.87v2.90h-2.87zM466.50 565.89h2.87v2.90h-2.87zM475.12 565.89h2.87v2.90h-2.87zM492.37 565.89h5.75v2.90h-5.75zM500.99 565.89h25.87v2.90h-25.87zM532.61 565.89h2.87v2.90h-2.87zM538.36 565.89h2.87v2.90h-2.87zM544.11 565.89h2.87v2.90h-2.87zM549.86 565.89h14.37v2.90h-14.37zM575.72 565.89h2.87v2.90h-2.87zM601.59 565.89h2.87v2.90h-2.87zM610.22 565.89h2.87v2.90h-2.87zM636.09 565.89h2.87v2.90h-2.87zM742.44 565.89h2.87v2.90h-2.87zM788.42 565.89h5.75v2.90h-5.75zM820.04 565.89h2.87v2.90h-2.87zM831.54 565.89h2.87v2.90h-2.87zM840.16 565.89h2.87v2.90h-2.87zM857.41 565.89h2.87v2.90h-2.87zM897.65 565.89h2.87v2.90h-2.87zM909.15 565.89h2.87v2.90h-2.87zM917.77 565.89h2.87v2.90h-2.87zM937.89 565.89h2.87v2.90h-2.87zM946.51 565.89h2.87v2.90h-2.87zM963.76 565.89h5.75v2.90h-5.75zM222.18 562.83h2.87v2.90h-2.87zM227.93 562.83h2.87v2.90h-2.87zM259.55 562.83h2.87v2.90h-2.87zM463.63 562.83h5.75v2.90h-5.75zM478.00 562.83h14.37v2.90h-14.37zM495.24 562.83h8.62v2.90h-8.62zM506.74 562.83h28.74v2.90h-28.74zM538.36 562.83h25.87v2.90h-25.87zM567.10 562.83h2.87v2.90h-2.87zM572.85 562.83h2.87v2.90h-2.87zM578.60 562.83h2.87v2.90h-2.87zM592.97 562.83h2.87v2.90h-2.87zM610.22 562.83h2.87v2.90h-2.87zM638.96 562.83h2.87v2.90h-2.87zM659.08 562.83h2.87v2.90h-2.87zM725.19 562.83h8.62v2.90h-8.62zM751.06 562.83h2.87v2.90h-2.87zM785.55 562.83h2.87v2.90h-2.87zM797.05 562.83h5.75v2.90h-5.75zM817.17 562.83h2.87v2.90h-2.87zM822.92 562.83h2.87v2.90h-2.87zM831.54 562.83h2.87v2.90h-2.87zM840.16 562.83h2.87v2.90h-2.87zM860.28 562.83h2.87v2.90h-2.87zM866.03 562.83h2.87v2.90h-2.87zM871.78 562.83h2.87v2.90h-2.87zM880.40 562.83h2.87v2.90h-2.87zM889.03 562.83h2.87v2.90h-2.87zM897.65 562.83h2.87v2.90h-2.87zM903.40 562.83h5.75v2.90h-5.75zM958.01 562.83h2.87v2.90h-2.87zM963.76 562.83h2.87v2.90h-2.87zM989.63 562.83h2.87v2.90h-2.87zM225.06 559.78h2.87v2.90h-2.87zM308.41 559.78h2.87v2.90h-2.87zM446.38 559.78h8.62v2.90h-8.62zM460.75 559.78h17.25v2.90h-17.25zM480.87 559.78h17.25v2.90h-17.25zM500.99 559.78h8.62v2.90h-8.62zM512.49 559.78h17.25v2.90h-17.25zM532.61 559.78h8.62v2.90h-8.62zM546.98 559.78h5.75v2.90h-5.75zM555.60 559.78h5.75v2.90h-5.75zM567.10 559.78h8.62v2.90h-8.62zM578.60 559.78h2.87v2.90h-2.87zM630.34 559.78h2.87v2.90h-2.87zM667.70 559.78h2.87v2.90h-2.87zM673.45 559.78h2.87v2.90h-2.87zM696.45 559.78h2.87v2.90h-2.87zM733.81 559.78h2.87v2.90h-2.87zM756.81 559.78h2.87v2.90h-2.87zM788.42 559.78h2.87v2.90h-2.87zM794.17 559.78h2.87v2.90h-2.87zM814.29 559.78h2.87v2.90h-2.87zM820.04 559.78h2.87v2.90h-2.87zM840.16 559.78h5.75v2.90h-5.75zM863.16 559.78h2.87v2.90h-2.87zM880.40 559.78h5.75v2.90h-5.75zM891.90 559.78h2.87v2.90h-2.87zM900.52 559.78h5.75v2.90h-5.75zM912.02 559.78h2.87v2.90h-2.87zM975.26 559.78h2.87v2.90h-2.87zM449.25 556.72h2.87v2.90h-2.87zM457.88 556.72h2.87v2.90h-2.87zM463.63 556.72h2.87v2.90h-2.87zM469.37 556.72h2.87v2.90h-2.87zM475.12 556.72h5.75v2.90h-5.75zM483.75 556.72h2.87v2.90h-2.87zM489.49 556.72h43.11v2.90h-43.11zM538.36 556.72h2.87v2.90h-2.87zM578.60 556.72h2.87v2.90h-2.87zM590.10 556.72h2.87v2.90h-2.87zM621.71 556.72h2.87v2.90h-2.87zM638.96 556.72h2.87v2.90h-2.87zM656.21 556.72h2.87v2.90h-2.87zM664.83 556.72h2.87v2.90h-2.87zM687.82 556.72h2.87v2.90h-2.87zM699.32 556.72h2.87v2.90h-2.87zM736.69 556.72h2.87v2.90h-2.87zM751.06 556.72h2.87v2.90h-2.87zM756.81 556.72h2.87v2.90h-2.87zM765.43 556.72h2.87v2.90h-2.87zM779.80 556.72h2.87v2.90h-2.87zM788.42 556.72h2.87v2.90h-2.87zM799.92 556.72h2.87v2.90h-2.87zM894.78 556.72h2.87v2.90h-2.87zM914.90 556.72h5.75v2.90h-5.75zM946.51 556.72h2.87v2.90h-2.87zM230.80 553.67h2.87v2.90h-2.87zM446.38 553.67h5.75v2.90h-5.75zM455.00 553.67h2.87v2.90h-2.87zM463.63 553.67h14.37v2.90h-14.37zM483.75 553.67h2.87v2.90h-2.87zM492.37 553.67h2.87v2.90h-2.87zM500.99 553.67h8.62v2.90h-8.62zM512.49 553.67h11.50v2.90h-11.50zM526.86 553.67h2.87v2.90h-2.87zM538.36 553.67h5.75v2.90h-5.75zM601.59 553.67h2.87v2.90h-2.87zM624.59 553.67h2.87v2.90h-2.87zM630.34 553.67h2.87v2.90h-2.87zM679.20 553.67h2.87v2.90h-2.87zM687.82 553.67h2.87v2.90h-2.87zM705.07 553.67h2.87v2.90h-2.87zM725.19 553.67h2.87v2.90h-2.87zM736.69 553.67h2.87v2.90h-2.87zM742.44 553.67h2.87v2.90h-2.87zM756.81 553.67h5.75v2.90h-5.75zM771.18 553.67h2.87v2.90h-2.87zM776.93 553.67h2.87v2.90h-2.87zM782.68 553.67h2.87v2.90h-2.87zM814.29 553.67h2.87v2.90h-2.87zM820.04 553.67h5.75v2.90h-5.75zM831.54 553.67h2.87v2.90h-2.87zM845.91 553.67h2.87v2.90h-2.87zM874.65 553.67h5.75v2.90h-5.75zM883.28 553.67h2.87v2.90h-2.87zM894.78 553.67h2.87v2.90h-2.87zM230.80 550.61h5.75v2.90h-5.75zM360.15 550.61h2.87v2.90h-2.87zM440.63 550.61h2.87v2.90h-2.87zM446.38 550.61h5.75v2.90h-5.75zM457.88 550.61h2.87v2.90h-2.87zM463.63 550.61h25.87v2.90h-25.87zM492.37 550.61h2.87v2.90h-2.87zM498.12 550.61h11.50v2.90h-11.50zM512.49 550.61h2.87v2.90h-2.87zM518.24 550.61h11.50v2.90h-11.50zM532.61 550.61h2.87v2.90h-2.87zM546.98 550.61h2.87v2.90h-2.87zM598.72 550.61h2.87v2.90h-2.87zM604.47 550.61h2.87v2.90h-2.87zM627.46 550.61h2.87v2.90h-2.87zM653.33 550.61h2.87v2.90h-2.87zM684.95 550.61h5.75v2.90h-5.75zM713.69 550.61h5.75v2.90h-5.75zM745.31 550.61h2.87v2.90h-2.87zM751.06 550.61h2.87v2.90h-2.87zM759.68 550.61h5.75v2.90h-5.75zM788.42 550.61h2.87v2.90h-2.87zM794.17 550.61h8.62v2.90h-8.62zM808.55 550.61h2.87v2.90h-2.87zM820.04 550.61h2.87v2.90h-2.87zM831.54 550.61h2.87v2.90h-2.87zM845.91 550.61h2.87v2.90h-2.87zM851.66 550.61h5.75v2.90h-5.75zM860.28 550.61h2.87v2.90h-2.87zM866.03 550.61h2.87v2.90h-2.87zM874.65 550.61h2.87v2.90h-2.87zM906.27 550.61h2.87v2.90h-2.87zM929.27 550.61h2.87v2.90h-2.87zM937.89 550.61h5.75v2.90h-5.75zM230.80 547.55h5.75v2.90h-5.75zM420.51 547.55h2.87v2.90h-2.87zM440.63 547.55h2.87v2.90h-2.87zM449.25 547.55h8.62v2.90h-8.62zM460.75 547.55h2.87v2.90h-2.87zM466.50 547.55h37.37v2.90h-37.37zM506.74 547.55h11.50v2.90h-11.50zM521.11 547.55h2.87v2.90h-2.87zM546.98 547.55h2.87v2.90h-2.87zM575.72 547.55h2.87v2.90h-2.87zM581.47 547.55h2.87v2.90h-2.87zM601.59 547.55h2.87v2.90h-2.87zM607.34 547.55h5.75v2.90h-5.75zM627.46 547.55h2.87v2.90h-2.87zM656.21 547.55h5.75v2.90h-5.75zM679.20 547.55h5.75v2.90h-5.75zM693.57 547.55h2.87v2.90h-2.87zM702.19 547.55h2.87v2.90h-2.87zM719.44 547.55h2.87v2.90h-2.87zM730.94 547.55h2.87v2.90h-2.87zM736.69 547.55h2.87v2.90h-2.87zM742.44 547.55h5.75v2.90h-5.75zM765.43 547.55h5.75v2.90h-5.75zM782.68 547.55h2.87v2.90h-2.87zM788.42 547.55h2.87v2.90h-2.87zM799.92 547.55h5.75v2.90h-5.75zM814.29 547.55h5.75v2.90h-5.75zM825.79 547.55h2.87v2.90h-2.87zM840.16 547.55h2.87v2.90h-2.87zM866.03 547.55h2.87v2.90h-2.87zM889.03 547.55h2.87v2.90h-2.87zM897.65 547.55h2.87v2.90h-2.87zM906.27 547.55h2.87v2.90h-2.87zM989.63 547.55h2.87v2.90h-2.87zM1001.13 547.55h2.87v2.90h-2.87zM236.55 544.50h2.87v2.90h-2.87zM311.29 544.50h2.87v2.90h-2.87zM417.64 544.50h2.87v2.90h-2.87zM426.26 544.50h45.99v2.90h-45.99zM475.12 544.50h22.99v2.90h-22.99zM590.10 544.50h2.87v2.90h-2.87zM610.22 544.50h2.87v2.90h-2.87zM627.46 544.50h2.87v2.90h-2.87zM633.21 544.50h2.87v2.90h-2.87zM644.71 544.50h2.87v2.90h-2.87zM650.46 544.50h2.87v2.90h-2.87zM659.08 544.50h2.87v2.90h-2.87zM664.83 544.50h5.75v2.90h-5.75zM710.82 544.50h2.87v2.90h-2.87zM728.06 544.50h2.87v2.90h-2.87zM733.81 544.50h2.87v2.90h-2.87zM742.44 544.50h2.87v2.90h-2.87zM753.93 544.50h2.87v2.90h-2.87zM765.43 544.50h2.87v2.90h-2.87zM774.05 544.50h2.87v2.90h-2.87zM782.68 544.50h2.87v2.90h-2.87zM834.41 544.50h2.87v2.90h-2.87zM860.28 544.50h2.87v2.90h-2.87zM929.27 544.50h2.87v2.90h-2.87zM986.75 544.50h2.87v2.90h-2.87zM992.50 544.50h2.87v2.90h-2.87zM236.55 541.44h5.75v2.90h-5.75zM317.03 541.44h2.87v2.90h-2.87zM409.01 541.44h2.87v2.90h-2.87zM423.38 541.44h2.87v2.90h-2.87zM429.13 541.44h2.87v2.90h-2.87zM434.88 541.44h2.87v2.90h-2.87zM446.38 541.44h28.74v2.90h-28.74zM478.00 541.44h5.75v2.90h-5.75zM495.24 541.44h5.75v2.90h-5.75zM512.49 541.44h2.87v2.90h-2.87zM546.98 541.44h2.87v2.90h-2.87zM581.47 541.44h5.75v2.90h-5.75zM590.10 541.44h2.87v2.90h-2.87zM601.59 541.44h2.87v2.90h-2.87zM630.34 541.44h2.87v2.90h-2.87zM641.83 541.44h2.87v2.90h-2.87zM656.21 541.44h2.87v2.90h-2.87zM664.83 541.44h2.87v2.90h-2.87zM696.45 541.44h2.87v2.90h-2.87zM705.07 541.44h2.87v2.90h-2.87zM713.69 541.44h2.87v2.90h-2.87zM719.44 541.44h5.75v2.90h-5.75zM733.81 541.44h2.87v2.90h-2.87zM768.30 541.44h5.75v2.90h-5.75zM794.17 541.44h8.62v2.90h-8.62zM845.91 541.44h2.87v2.90h-2.87zM963.76 541.44h2.87v2.90h-2.87zM986.75 541.44h2.87v2.90h-2.87zM236.55 538.39h5.75v2.90h-5.75zM250.92 538.39h2.87v2.90h-2.87zM403.26 538.39h2.87v2.90h-2.87zM411.89 538.39h5.75v2.90h-5.75zM420.51 538.39h8.62v2.90h-8.62zM432.01 538.39h54.61v2.90h-54.61zM489.49 538.39h5.75v2.90h-5.75zM498.12 538.39h5.75v2.90h-5.75zM509.61 538.39h2.87v2.90h-2.87zM587.22 538.39h2.87v2.90h-2.87zM615.96 538.39h2.87v2.90h-2.87zM630.34 538.39h2.87v2.90h-2.87zM661.95 538.39h8.62v2.90h-8.62zM676.33 538.39h2.87v2.90h-2.87zM687.82 538.39h5.75v2.90h-5.75zM696.45 538.39h2.87v2.90h-2.87zM710.82 538.39h2.87v2.90h-2.87zM716.57 538.39h5.75v2.90h-5.75zM725.19 538.39h5.75v2.90h-5.75zM733.81 538.39h8.62v2.90h-8.62zM753.93 538.39h2.87v2.90h-2.87zM762.56 538.39h2.87v2.90h-2.87zM774.05 538.39h2.87v2.90h-2.87zM785.55 538.39h2.87v2.90h-2.87zM805.67 538.39h2.87v2.90h-2.87zM868.91 538.39h2.87v2.90h-2.87zM926.39 538.39h2.87v2.90h-2.87zM943.64 538.39h2.87v2.90h-2.87zM388.89 535.33h2.87v2.90h-2.87zM403.26 535.33h5.75v2.90h-5.75zM426.26 535.33h2.87v2.90h-2.87zM432.01 535.33h2.87v2.90h-2.87zM437.76 535.33h8.62v2.90h-8.62zM452.13 535.33h5.75v2.90h-5.75zM463.63 535.33h5.75v2.90h-5.75zM472.25 535.33h2.87v2.90h-2.87zM500.99 535.33h2.87v2.90h-2.87zM613.09 535.33h2.87v2.90h-2.87zM636.09 535.33h8.62v2.90h-8.62zM667.70 535.33h2.87v2.90h-2.87zM679.20 535.33h2.87v2.90h-2.87zM693.57 535.33h2.87v2.90h-2.87zM699.32 535.33h2.87v2.90h-2.87zM710.82 535.33h2.87v2.90h-2.87zM719.44 535.33h2.87v2.90h-2.87zM736.69 535.33h11.50v2.90h-11.50zM753.93 535.33h2.87v2.90h-2.87zM825.79 535.33h2.87v2.90h-2.87zM837.29 535.33h2.87v2.90h-2.87zM845.91 535.33h2.87v2.90h-2.87zM851.66 535.33h2.87v2.90h-2.87zM883.28 535.33h2.87v2.90h-2.87zM940.76 535.33h5.75v2.90h-5.75zM983.88 535.33h2.87v2.90h-2.87zM242.30 532.28h5.75v2.90h-5.75zM397.52 532.28h2.87v2.90h-2.87zM406.14 532.28h5.75v2.90h-5.75zM414.76 532.28h5.75v2.90h-5.75zM423.38 532.28h8.62v2.90h-8.62zM434.88 532.28h37.37v2.90h-37.37zM495.24 532.28h2.87v2.90h-2.87zM532.61 532.28h2.87v2.90h-2.87zM569.98 532.28h2.87v2.90h-2.87zM627.46 532.28h8.62v2.90h-8.62zM638.96 532.28h5.75v2.90h-5.75zM647.58 532.28h2.87v2.90h-2.87zM656.21 532.28h2.87v2.90h-2.87zM667.70 532.28h2.87v2.90h-2.87zM679.20 532.28h5.75v2.90h-5.75zM687.82 532.28h5.75v2.90h-5.75zM696.45 532.28h2.87v2.90h-2.87zM702.19 532.28h2.87v2.90h-2.87zM710.82 532.28h2.87v2.90h-2.87zM716.57 532.28h2.87v2.90h-2.87zM725.19 532.28h2.87v2.90h-2.87zM730.94 532.28h2.87v2.90h-2.87zM817.17 532.28h2.87v2.90h-2.87zM837.29 532.28h2.87v2.90h-2.87zM845.91 532.28h2.87v2.90h-2.87zM245.18 529.22h5.75v2.90h-5.75zM291.17 529.22h2.87v2.90h-2.87zM386.02 529.22h8.62v2.90h-8.62zM397.52 529.22h2.87v2.90h-2.87zM406.14 529.22h8.62v2.90h-8.62zM417.64 529.22h8.62v2.90h-8.62zM432.01 529.22h14.37v2.90h-14.37zM449.25 529.22h11.50v2.90h-11.50zM463.63 529.22h2.87v2.90h-2.87zM469.37 529.22h2.87v2.90h-2.87zM492.37 529.22h2.87v2.90h-2.87zM515.36 529.22h2.87v2.90h-2.87zM544.11 529.22h2.87v2.90h-2.87zM572.85 529.22h5.75v2.90h-5.75zM587.22 529.22h2.87v2.90h-2.87zM595.84 529.22h2.87v2.90h-2.87zM618.84 529.22h2.87v2.90h-2.87zM630.34 529.22h2.87v2.90h-2.87zM636.09 529.22h2.87v2.90h-2.87zM650.46 529.22h8.62v2.90h-8.62zM664.83 529.22h2.87v2.90h-2.87zM670.58 529.22h5.75v2.90h-5.75zM679.20 529.22h2.87v2.90h-2.87zM684.95 529.22h5.75v2.90h-5.75zM693.57 529.22h5.75v2.90h-5.75zM707.94 529.22h2.87v2.90h-2.87zM713.69 529.22h5.75v2.90h-5.75zM733.81 529.22h2.87v2.90h-2.87zM797.05 529.22h2.87v2.90h-2.87zM986.75 529.22h2.87v2.90h-2.87zM345.78 526.16h2.87v2.90h-2.87zM391.77 526.16h2.87v2.90h-2.87zM397.52 526.16h8.62v2.90h-8.62zM409.01 526.16h5.75v2.90h-5.75zM420.51 526.16h11.50v2.90h-11.50zM434.88 526.16h8.62v2.90h-8.62zM452.13 526.16h2.87v2.90h-2.87zM460.75 526.16h5.75v2.90h-5.75zM483.75 526.16h2.87v2.90h-2.87zM598.72 526.16h2.87v2.90h-2.87zM618.84 526.16h8.62v2.90h-8.62zM656.21 526.16h8.62v2.90h-8.62zM667.70 526.16h2.87v2.90h-2.87zM673.45 526.16h2.87v2.90h-2.87zM693.57 526.16h2.87v2.90h-2.87zM705.07 526.16h2.87v2.90h-2.87zM739.56 526.16h2.87v2.90h-2.87zM756.81 526.16h2.87v2.90h-2.87zM935.02 526.16h2.87v2.90h-2.87zM966.63 526.16h2.87v2.90h-2.87zM250.92 523.11h5.75v2.90h-5.75zM273.92 523.11h2.87v2.90h-2.87zM314.16 523.11h2.87v2.90h-2.87zM374.52 523.11h5.75v2.90h-5.75zM386.02 523.11h2.87v2.90h-2.87zM391.77 523.11h11.50v2.90h-11.50zM406.14 523.11h20.12v2.90h-20.12zM429.13 523.11h8.62v2.90h-8.62zM440.63 523.11h8.62v2.90h-8.62zM452.13 523.11h2.87v2.90h-2.87zM478.00 523.11h2.87v2.90h-2.87zM509.61 523.11h2.87v2.90h-2.87zM538.36 523.11h2.87v2.90h-2.87zM584.35 523.11h2.87v2.90h-2.87zM590.10 523.11h2.87v2.90h-2.87zM601.59 523.11h2.87v2.90h-2.87zM613.09 523.11h2.87v2.90h-2.87zM621.71 523.11h11.50v2.90h-11.50zM636.09 523.11h2.87v2.90h-2.87zM641.83 523.11h2.87v2.90h-2.87zM647.58 523.11h8.62v2.90h-8.62zM661.95 523.11h2.87v2.90h-2.87zM676.33 523.11h2.87v2.90h-2.87zM690.70 523.11h2.87v2.90h-2.87zM705.07 523.11h5.75v2.90h-5.75zM716.57 523.11h2.87v2.90h-2.87zM733.81 523.11h2.87v2.90h-2.87zM248.05 520.05h2.87v2.90h-2.87zM397.52 520.05h8.62v2.90h-8.62zM409.01 520.05h2.87v2.90h-2.87zM417.64 520.05h11.50v2.90h-11.50zM434.88 520.05h2.87v2.90h-2.87zM446.38 520.05h2.87v2.90h-2.87zM558.48 520.05h2.87v2.90h-2.87zM581.47 520.05h2.87v2.90h-2.87zM598.72 520.05h2.87v2.90h-2.87zM627.46 520.05h2.87v2.90h-2.87zM647.58 520.05h2.87v2.90h-2.87zM659.08 520.05h2.87v2.90h-2.87zM673.45 520.05h2.87v2.90h-2.87zM679.20 520.05h2.87v2.90h-2.87zM684.95 520.05h2.87v2.90h-2.87zM725.19 520.05h2.87v2.90h-2.87zM848.79 520.05h2.87v2.90h-2.87zM981.01 520.05h2.87v2.90h-2.87zM256.67 517.00h2.87v2.90h-2.87zM314.16 517.00h2.87v2.90h-2.87zM374.52 517.00h5.75v2.90h-5.75zM386.02 517.00h8.62v2.90h-8.62zM397.52 517.00h22.99v2.90h-22.99zM423.38 517.00h5.75v2.90h-5.75zM443.50 517.00h2.87v2.90h-2.87zM460.75 517.00h2.87v2.90h-2.87zM469.37 517.00h2.87v2.90h-2.87zM489.49 517.00h2.87v2.90h-2.87zM495.24 517.00h2.87v2.90h-2.87zM538.36 517.00h5.75v2.90h-5.75zM575.72 517.00h2.87v2.90h-2.87zM590.10 517.00h17.25v2.90h-17.25zM624.59 517.00h2.87v2.90h-2.87zM638.96 517.00h14.37v2.90h-14.37zM670.58 517.00h8.62v2.90h-8.62zM684.95 517.00h2.87v2.90h-2.87zM690.70 517.00h2.87v2.90h-2.87zM728.06 517.00h2.87v2.90h-2.87zM733.81 517.00h2.87v2.90h-2.87zM759.68 517.00h5.75v2.90h-5.75zM768.30 517.00h2.87v2.90h-2.87zM817.17 517.00h5.75v2.90h-5.75zM851.66 517.00h2.87v2.90h-2.87zM909.15 517.00h2.87v2.90h-2.87zM929.27 517.00h2.87v2.90h-2.87zM935.02 517.00h2.87v2.90h-2.87zM256.67 513.94h2.87v2.90h-2.87zM360.15 513.94h2.87v2.90h-2.87zM371.65 513.94h2.87v2.90h-2.87zM377.40 513.94h22.99v2.90h-22.99zM403.26 513.94h22.99v2.90h-22.99zM429.13 513.94h2.87v2.90h-2.87zM434.88 513.94h2.87v2.90h-2.87zM440.63 513.94h2.87v2.90h-2.87zM492.37 513.94h2.87v2.90h-2.87zM500.99 513.94h2.87v2.90h-2.87zM506.74 513.94h2.87v2.90h-2.87zM532.61 513.94h2.87v2.90h-2.87zM549.86 513.94h2.87v2.90h-2.87zM587.22 513.94h5.75v2.90h-5.75zM601.59 513.94h2.87v2.90h-2.87zM607.34 513.94h8.62v2.90h-8.62zM618.84 513.94h5.75v2.90h-5.75zM627.46 513.94h2.87v2.90h-2.87zM633.21 513.94h2.87v2.90h-2.87zM644.71 513.94h5.75v2.90h-5.75zM653.33 513.94h2.87v2.90h-2.87zM661.95 513.94h2.87v2.90h-2.87zM673.45 513.94h2.87v2.90h-2.87zM684.95 513.94h2.87v2.90h-2.87zM707.94 513.94h2.87v2.90h-2.87zM736.69 513.94h2.87v2.90h-2.87zM814.29 513.94h2.87v2.90h-2.87zM291.17 510.88h2.87v2.90h-2.87zM377.40 510.88h2.87v2.90h-2.87zM383.14 510.88h11.50v2.90h-11.50zM397.52 510.88h8.62v2.90h-8.62zM409.01 510.88h8.62v2.90h-8.62zM423.38 510.88h8.62v2.90h-8.62zM455.00 510.88h5.75v2.90h-5.75zM546.98 510.88h2.87v2.90h-2.87zM569.98 510.88h2.87v2.90h-2.87zM575.72 510.88h2.87v2.90h-2.87zM587.22 510.88h5.75v2.90h-5.75zM595.84 510.88h2.87v2.90h-2.87zM613.09 510.88h2.87v2.90h-2.87zM624.59 510.88h2.87v2.90h-2.87zM644.71 510.88h2.87v2.90h-2.87zM679.20 510.88h2.87v2.90h-2.87zM693.57 510.88h2.87v2.90h-2.87zM730.94 510.88h2.87v2.90h-2.87zM745.31 510.88h2.87v2.90h-2.87zM776.93 510.88h2.87v2.90h-2.87zM854.53 510.88h2.87v2.90h-2.87zM256.67 507.83h5.75v2.90h-5.75zM273.92 507.83h2.87v2.90h-2.87zM371.65 507.83h20.12v2.90h-20.12zM394.64 507.83h17.25v2.90h-17.25zM414.76 507.83h5.75v2.90h-5.75zM429.13 507.83h2.87v2.90h-2.87zM434.88 507.83h2.87v2.90h-2.87zM449.25 507.83h2.87v2.90h-2.87zM512.49 507.83h8.62v2.90h-8.62zM535.48 507.83h2.87v2.90h-2.87zM546.98 507.83h2.87v2.90h-2.87zM558.48 507.83h2.87v2.90h-2.87zM569.98 507.83h5.75v2.90h-5.75zM581.47 507.83h2.87v2.90h-2.87zM587.22 507.83h2.87v2.90h-2.87zM592.97 507.83h2.87v2.90h-2.87zM598.72 507.83h8.62v2.90h-8.62zM615.96 507.83h2.87v2.90h-2.87zM627.46 507.83h2.87v2.90h-2.87zM636.09 507.83h2.87v2.90h-2.87zM641.83 507.83h2.87v2.90h-2.87zM656.21 507.83h2.87v2.90h-2.87zM670.58 507.83h2.87v2.90h-2.87zM707.94 507.83h2.87v2.90h-2.87zM725.19 507.83h2.87v2.90h-2.87zM759.68 507.83h2.87v2.90h-2.87zM765.43 507.83h2.87v2.90h-2.87zM788.42 507.83h2.87v2.90h-2.87zM802.80 507.83h2.87v2.90h-2.87zM960.88 507.83h2.87v2.90h-2.87zM966.63 507.83h2.87v2.90h-2.87zM262.42 504.77h2.87v2.90h-2.87zM296.91 504.77h2.87v2.90h-2.87zM368.77 504.77h5.75v2.90h-5.75zM383.14 504.77h2.87v2.90h-2.87zM388.89 504.77h5.75v2.90h-5.75zM400.39 504.77h5.75v2.90h-5.75zM409.01 504.77h2.87v2.90h-2.87zM414.76 504.77h2.87v2.90h-2.87zM446.38 504.77h2.87v2.90h-2.87zM538.36 504.77h2.87v2.90h-2.87zM549.86 504.77h2.87v2.90h-2.87zM581.47 504.77h5.75v2.90h-5.75zM592.97 504.77h2.87v2.90h-2.87zM604.47 504.77h5.75v2.90h-5.75zM630.34 504.77h2.87v2.90h-2.87zM653.33 504.77h2.87v2.90h-2.87zM725.19 504.77h2.87v2.90h-2.87zM753.93 504.77h2.87v2.90h-2.87zM765.43 504.77h2.87v2.90h-2.87zM794.17 504.77h5.75v2.90h-5.75zM262.42 501.72h2.87v2.90h-2.87zM365.90 501.72h22.99v2.90h-22.99zM394.64 501.72h5.75v2.90h-5.75zM403.26 501.72h2.87v2.90h-2.87zM409.01 501.72h2.87v2.90h-2.87zM414.76 501.72h2.87v2.90h-2.87zM420.51 501.72h5.75v2.90h-5.75zM452.13 501.72h2.87v2.90h-2.87zM515.36 501.72h2.87v2.90h-2.87zM521.11 501.72h2.87v2.90h-2.87zM535.48 501.72h5.75v2.90h-5.75zM552.73 501.72h2.87v2.90h-2.87zM561.35 501.72h2.87v2.90h-2.87zM567.10 501.72h8.62v2.90h-8.62zM578.60 501.72h5.75v2.90h-5.75zM587.22 501.72h2.87v2.90h-2.87zM604.47 501.72h2.87v2.90h-2.87zM610.22 501.72h2.87v2.90h-2.87zM621.71 501.72h5.75v2.90h-5.75zM650.46 501.72h2.87v2.90h-2.87zM736.69 501.72h2.87v2.90h-2.87zM742.44 501.72h2.87v2.90h-2.87zM759.68 501.72h2.87v2.90h-2.87zM797.05 501.72h2.87v2.90h-2.87zM808.55 501.72h2.87v2.90h-2.87zM262.42 498.66h5.75v2.90h-5.75zM308.41 498.66h2.87v2.90h-2.87zM365.90 498.66h5.75v2.90h-5.75zM374.52 498.66h2.87v2.90h-2.87zM380.27 498.66h8.62v2.90h-8.62zM394.64 498.66h11.50v2.90h-11.50zM414.76 498.66h2.87v2.90h-2.87zM455.00 498.66h2.87v2.90h-2.87zM469.37 498.66h2.87v2.90h-2.87zM541.23 498.66h8.62v2.90h-8.62zM558.48 498.66h5.75v2.90h-5.75zM567.10 498.66h5.75v2.90h-5.75zM575.72 498.66h2.87v2.90h-2.87zM595.84 498.66h2.87v2.90h-2.87zM607.34 498.66h2.87v2.90h-2.87zM618.84 498.66h2.87v2.90h-2.87zM624.59 498.66h5.75v2.90h-5.75zM641.83 498.66h5.75v2.90h-5.75zM742.44 498.66h2.87v2.90h-2.87zM762.56 498.66h2.87v2.90h-2.87zM268.17 495.61h2.87v2.90h-2.87zM285.42 495.61h2.87v2.90h-2.87zM331.41 495.61h2.87v2.90h-2.87zM363.02 495.61h8.62v2.90h-8.62zM377.40 495.61h8.62v2.90h-8.62zM388.89 495.61h5.75v2.90h-5.75zM406.14 495.61h2.87v2.90h-2.87zM434.88 495.61h2.87v2.90h-2.87zM449.25 495.61h2.87v2.90h-2.87zM521.11 495.61h2.87v2.90h-2.87zM526.86 495.61h8.62v2.90h-8.62zM541.23 495.61h2.87v2.90h-2.87zM546.98 495.61h2.87v2.90h-2.87zM567.10 495.61h2.87v2.90h-2.87zM578.60 495.61h17.25v2.90h-17.25zM624.59 495.61h2.87v2.90h-2.87zM656.21 495.61h2.87v2.90h-2.87zM673.45 495.61h2.87v2.90h-2.87zM682.07 495.61h2.87v2.90h-2.87zM690.70 495.61h2.87v2.90h-2.87zM739.56 495.61h2.87v2.90h-2.87zM745.31 495.61h5.75v2.90h-5.75zM802.80 495.61h2.87v2.90h-2.87zM877.53 495.61h2.87v2.90h-2.87zM268.17 492.55h5.75v2.90h-5.75zM285.42 492.55h2.87v2.90h-2.87zM360.15 492.55h2.87v2.90h-2.87zM371.65 492.55h5.75v2.90h-5.75zM380.27 492.55h8.62v2.90h-8.62zM391.77 492.55h2.87v2.90h-2.87zM400.39 492.55h2.87v2.90h-2.87zM409.01 492.55h2.87v2.90h-2.87zM452.13 492.55h2.87v2.90h-2.87zM460.75 492.55h2.87v2.90h-2.87zM469.37 492.55h2.87v2.90h-2.87zM478.00 492.55h2.87v2.90h-2.87zM486.62 492.55h2.87v2.90h-2.87zM500.99 492.55h2.87v2.90h-2.87zM521.11 492.55h2.87v2.90h-2.87zM538.36 492.55h2.87v2.90h-2.87zM546.98 492.55h5.75v2.90h-5.75zM558.48 492.55h5.75v2.90h-5.75zM567.10 492.55h5.75v2.90h-5.75zM584.35 492.55h2.87v2.90h-2.87zM592.97 492.55h2.87v2.90h-2.87zM598.72 492.55h2.87v2.90h-2.87zM647.58 492.55h2.87v2.90h-2.87zM676.33 492.55h2.87v2.90h-2.87zM687.82 492.55h2.87v2.90h-2.87zM271.04 489.49h2.87v2.90h-2.87zM360.15 489.49h2.87v2.90h-2.87zM365.90 489.49h5.75v2.90h-5.75zM374.52 489.49h11.50v2.90h-11.50zM388.89 489.49h5.75v2.90h-5.75zM414.76 489.49h2.87v2.90h-2.87zM434.88 489.49h2.87v2.90h-2.87zM478.00 489.49h2.87v2.90h-2.87zM483.75 489.49h2.87v2.90h-2.87zM506.74 489.49h5.75v2.90h-5.75zM515.36 489.49h2.87v2.90h-2.87zM521.11 489.49h5.75v2.90h-5.75zM529.73 489.49h2.87v2.90h-2.87zM535.48 489.49h2.87v2.90h-2.87zM552.73 489.49h2.87v2.90h-2.87zM558.48 489.49h2.87v2.90h-2.87zM564.23 489.49h2.87v2.90h-2.87zM578.60 489.49h2.87v2.90h-2.87zM607.34 489.49h5.75v2.90h-5.75zM644.71 489.49h2.87v2.90h-2.87zM653.33 489.49h2.87v2.90h-2.87zM676.33 489.49h2.87v2.90h-2.87zM716.57 489.49h5.75v2.90h-5.75zM728.06 489.49h2.87v2.90h-2.87zM745.31 489.49h2.87v2.90h-2.87zM771.18 489.49h2.87v2.90h-2.87zM785.55 489.49h2.87v2.90h-2.87zM791.30 489.49h2.87v2.90h-2.87zM814.29 489.49h2.87v2.90h-2.87zM271.04 486.44h5.75v2.90h-5.75zM311.29 486.44h2.87v2.90h-2.87zM354.40 486.44h2.87v2.90h-2.87zM360.15 486.44h11.50v2.90h-11.50zM374.52 486.44h8.62v2.90h-8.62zM391.77 486.44h2.87v2.90h-2.87zM400.39 486.44h2.87v2.90h-2.87zM460.75 486.44h2.87v2.90h-2.87zM478.00 486.44h2.87v2.90h-2.87zM500.99 486.44h2.87v2.90h-2.87zM506.74 486.44h2.87v2.90h-2.87zM526.86 486.44h2.87v2.90h-2.87zM538.36 486.44h17.25v2.90h-17.25zM581.47 486.44h2.87v2.90h-2.87zM598.72 486.44h2.87v2.90h-2.87zM604.47 486.44h2.87v2.90h-2.87zM638.96 486.44h2.87v2.90h-2.87zM647.58 486.44h2.87v2.90h-2.87zM676.33 486.44h2.87v2.90h-2.87zM705.07 486.44h2.87v2.90h-2.87zM713.69 486.44h2.87v2.90h-2.87zM722.32 486.44h2.87v2.90h-2.87zM739.56 486.44h2.87v2.90h-2.87zM751.06 486.44h2.87v2.90h-2.87zM756.81 486.44h2.87v2.90h-2.87zM774.05 486.44h2.87v2.90h-2.87zM785.55 486.44h2.87v2.90h-2.87zM854.53 486.44h2.87v2.90h-2.87zM294.04 483.38h2.87v2.90h-2.87zM331.41 483.38h2.87v2.90h-2.87zM360.15 483.38h11.50v2.90h-11.50zM374.52 483.38h8.62v2.90h-8.62zM391.77 483.38h2.87v2.90h-2.87zM420.51 483.38h2.87v2.90h-2.87zM437.76 483.38h2.87v2.90h-2.87zM457.88 483.38h2.87v2.90h-2.87zM492.37 483.38h2.87v2.90h-2.87zM503.87 483.38h2.87v2.90h-2.87zM521.11 483.38h5.75v2.90h-5.75zM532.61 483.38h2.87v2.90h-2.87zM541.23 483.38h2.87v2.90h-2.87zM555.60 483.38h8.62v2.90h-8.62zM578.60 483.38h2.87v2.90h-2.87zM661.95 483.38h2.87v2.90h-2.87zM682.07 483.38h2.87v2.90h-2.87zM713.69 483.38h2.87v2.90h-2.87zM730.94 483.38h2.87v2.90h-2.87zM756.81 483.38h2.87v2.90h-2.87zM325.66 480.33h2.87v2.90h-2.87zM342.90 480.33h2.87v2.90h-2.87zM348.65 480.33h5.75v2.90h-5.75zM357.27 480.33h5.75v2.90h-5.75zM368.77 480.33h2.87v2.90h-2.87zM374.52 480.33h2.87v2.90h-2.87zM380.27 480.33h5.75v2.90h-5.75zM414.76 480.33h2.87v2.90h-2.87zM437.76 480.33h2.87v2.90h-2.87zM469.37 480.33h2.87v2.90h-2.87zM498.12 480.33h8.62v2.90h-8.62zM515.36 480.33h5.75v2.90h-5.75zM523.99 480.33h2.87v2.90h-2.87zM529.73 480.33h5.75v2.90h-5.75zM544.11 480.33h5.75v2.90h-5.75zM564.23 480.33h2.87v2.90h-2.87zM598.72 480.33h2.87v2.90h-2.87zM647.58 480.33h2.87v2.90h-2.87zM656.21 480.33h2.87v2.90h-2.87zM667.70 480.33h2.87v2.90h-2.87zM687.82 480.33h2.87v2.90h-2.87zM799.92 480.33h2.87v2.90h-2.87zM276.79 477.27h2.87v2.90h-2.87zM285.42 477.27h2.87v2.90h-2.87zM351.53 477.27h5.75v2.90h-5.75zM360.15 477.27h5.75v2.90h-5.75zM368.77 477.27h8.62v2.90h-8.62zM386.02 477.27h2.87v2.90h-2.87zM469.37 477.27h2.87v2.90h-2.87zM486.62 477.27h2.87v2.90h-2.87zM495.24 477.27h2.87v2.90h-2.87zM506.74 477.27h8.62v2.90h-8.62zM521.11 477.27h5.75v2.90h-5.75zM532.61 477.27h2.87v2.90h-2.87zM561.35 477.27h2.87v2.90h-2.87zM567.10 477.27h2.87v2.90h-2.87zM584.35 477.27h2.87v2.90h-2.87zM664.83 477.27h2.87v2.90h-2.87zM279.67 474.22h2.87v2.90h-2.87zM354.40 474.22h5.75v2.90h-5.75zM363.02 474.22h14.37v2.90h-14.37zM386.02 474.22h5.75v2.90h-5.75zM394.64 474.22h2.87v2.90h-2.87zM443.50 474.22h2.87v2.90h-2.87zM463.63 474.22h5.75v2.90h-5.75zM480.87 474.22h17.25v2.90h-17.25zM500.99 474.22h2.87v2.90h-2.87zM509.61 474.22h2.87v2.90h-2.87zM526.86 474.22h2.87v2.90h-2.87zM552.73 474.22h2.87v2.90h-2.87zM569.98 474.22h2.87v2.90h-2.87zM598.72 474.22h2.87v2.90h-2.87zM604.47 474.22h2.87v2.90h-2.87zM615.96 474.22h2.87v2.90h-2.87zM624.59 474.22h2.87v2.90h-2.87zM641.83 474.22h2.87v2.90h-2.87zM647.58 474.22h2.87v2.90h-2.87zM661.95 474.22h2.87v2.90h-2.87zM673.45 474.22h5.75v2.90h-5.75zM687.82 474.22h2.87v2.90h-2.87zM693.57 474.22h2.87v2.90h-2.87zM728.06 474.22h2.87v2.90h-2.87zM759.68 474.22h2.87v2.90h-2.87zM771.18 474.22h2.87v2.90h-2.87zM282.54 471.16h5.75v2.90h-5.75zM308.41 471.16h2.87v2.90h-2.87zM319.91 471.16h2.87v2.90h-2.87zM345.78 471.16h5.75v2.90h-5.75zM354.40 471.16h22.99v2.90h-22.99zM386.02 471.16h5.75v2.90h-5.75zM394.64 471.16h2.87v2.90h-2.87zM403.26 471.16h2.87v2.90h-2.87zM449.25 471.16h2.87v2.90h-2.87zM460.75 471.16h2.87v2.90h-2.87zM469.37 471.16h2.87v2.90h-2.87zM486.62 471.16h2.87v2.90h-2.87zM495.24 471.16h8.62v2.90h-8.62zM506.74 471.16h2.87v2.90h-2.87zM512.49 471.16h5.75v2.90h-5.75zM526.86 471.16h2.87v2.90h-2.87zM549.86 471.16h2.87v2.90h-2.87zM558.48 471.16h2.87v2.90h-2.87zM630.34 471.16h2.87v2.90h-2.87zM636.09 471.16h2.87v2.90h-2.87zM659.08 471.16h2.87v2.90h-2.87zM673.45 471.16h5.75v2.90h-5.75zM682.07 471.16h5.75v2.90h-5.75zM713.69 471.16h2.87v2.90h-2.87zM285.42 468.10h2.87v2.90h-2.87zM291.17 468.10h2.87v2.90h-2.87zM302.66 468.10h2.87v2.90h-2.87zM337.15 468.10h2.87v2.90h-2.87zM342.90 468.10h5.75v2.90h-5.75zM351.53 468.10h17.25v2.90h-17.25zM371.65 468.10h5.75v2.90h-5.75zM391.77 468.10h2.87v2.90h-2.87zM400.39 468.10h2.87v2.90h-2.87zM417.64 468.10h2.87v2.90h-2.87zM426.26 468.10h2.87v2.90h-2.87zM443.50 468.10h2.87v2.90h-2.87zM469.37 468.10h2.87v2.90h-2.87zM478.00 468.10h22.99v2.90h-22.99zM503.87 468.10h5.75v2.90h-5.75zM515.36 468.10h2.87v2.90h-2.87zM526.86 468.10h2.87v2.90h-2.87zM546.98 468.10h2.87v2.90h-2.87zM630.34 468.10h2.87v2.90h-2.87zM638.96 468.10h2.87v2.90h-2.87zM644.71 468.10h2.87v2.90h-2.87zM653.33 468.10h2.87v2.90h-2.87zM702.19 468.10h2.87v2.90h-2.87zM730.94 468.10h2.87v2.90h-2.87zM288.29 465.05h2.87v2.90h-2.87zM331.41 465.05h2.87v2.90h-2.87zM342.90 465.05h11.50v2.90h-11.50zM357.27 465.05h2.87v2.90h-2.87zM365.90 465.05h5.75v2.90h-5.75zM374.52 465.05h2.87v2.90h-2.87zM432.01 465.05h2.87v2.90h-2.87zM446.38 465.05h2.87v2.90h-2.87zM466.50 465.05h2.87v2.90h-2.87zM486.62 465.05h2.87v2.90h-2.87zM495.24 465.05h2.87v2.90h-2.87zM506.74 465.05h2.87v2.90h-2.87zM515.36 465.05h5.75v2.90h-5.75zM546.98 465.05h2.87v2.90h-2.87zM558.48 465.05h2.87v2.90h-2.87zM590.10 465.05h2.87v2.90h-2.87zM604.47 465.05h2.87v2.90h-2.87zM621.71 465.05h2.87v2.90h-2.87zM627.46 465.05h5.75v2.90h-5.75zM636.09 465.05h2.87v2.90h-2.87zM644.71 465.05h2.87v2.90h-2.87zM667.70 465.05h2.87v2.90h-2.87zM676.33 465.05h2.87v2.90h-2.87zM696.45 465.05h2.87v2.90h-2.87zM348.65 461.99h5.75v2.90h-5.75zM357.27 461.99h5.75v2.90h-5.75zM371.65 461.99h5.75v2.90h-5.75zM400.39 461.99h2.87v2.90h-2.87zM466.50 461.99h2.87v2.90h-2.87zM489.49 461.99h5.75v2.90h-5.75zM498.12 461.99h2.87v2.90h-2.87zM512.49 461.99h5.75v2.90h-5.75zM521.11 461.99h5.75v2.90h-5.75zM529.73 461.99h2.87v2.90h-2.87zM538.36 461.99h2.87v2.90h-2.87zM549.86 461.99h2.87v2.90h-2.87zM624.59 461.99h2.87v2.90h-2.87zM294.04 458.94h2.87v2.90h-2.87zM342.90 458.94h5.75v2.90h-5.75zM351.53 458.94h8.62v2.90h-8.62zM363.02 458.94h5.75v2.90h-5.75zM380.27 458.94h2.87v2.90h-2.87zM417.64 458.94h2.87v2.90h-2.87zM480.87 458.94h2.87v2.90h-2.87zM492.37 458.94h2.87v2.90h-2.87zM503.87 458.94h2.87v2.90h-2.87zM529.73 458.94h2.87v2.90h-2.87zM558.48 458.94h2.87v2.90h-2.87zM618.84 458.94h2.87v2.90h-2.87zM633.21 458.94h2.87v2.90h-2.87zM687.82 458.94h2.87v2.90h-2.87zM707.94 458.94h2.87v2.90h-2.87zM345.78 455.88h25.87v2.90h-25.87zM374.52 455.88h2.87v2.90h-2.87zM388.89 455.88h2.87v2.90h-2.87zM460.75 455.88h2.87v2.90h-2.87zM486.62 455.88h2.87v2.90h-2.87zM495.24 455.88h2.87v2.90h-2.87zM503.87 455.88h2.87v2.90h-2.87zM509.61 455.88h2.87v2.90h-2.87zM592.97 455.88h2.87v2.90h-2.87zM604.47 455.88h2.87v2.90h-2.87zM661.95 455.88h2.87v2.90h-2.87zM667.70 455.88h2.87v2.90h-2.87zM673.45 455.88h2.87v2.90h-2.87zM291.17 452.83h2.87v2.90h-2.87zM340.03 452.83h2.87v2.90h-2.87zM348.65 452.83h5.75v2.90h-5.75zM357.27 452.83h5.75v2.90h-5.75zM478.00 452.83h2.87v2.90h-2.87zM546.98 452.83h2.87v2.90h-2.87zM552.73 452.83h2.87v2.90h-2.87zM601.59 452.83h2.87v2.90h-2.87zM607.34 452.83h2.87v2.90h-2.87zM676.33 452.83h2.87v2.90h-2.87zM684.95 452.83h2.87v2.90h-2.87zM294.04 449.77h5.75v2.90h-5.75zM337.15 449.77h2.87v2.90h-2.87zM345.78 449.77h11.50v2.90h-11.50zM360.15 449.77h5.75v2.90h-5.75zM368.77 449.77h2.87v2.90h-2.87zM394.64 449.77h2.87v2.90h-2.87zM400.39 449.77h2.87v2.90h-2.87zM417.64 449.77h2.87v2.90h-2.87zM423.38 449.77h2.87v2.90h-2.87zM446.38 449.77h2.87v2.90h-2.87zM452.13 449.77h2.87v2.90h-2.87zM469.37 449.77h2.87v2.90h-2.87zM475.12 449.77h2.87v2.90h-2.87zM480.87 449.77h8.62v2.90h-8.62zM509.61 449.77h2.87v2.90h-2.87zM575.72 449.77h2.87v2.90h-2.87zM592.97 449.77h5.75v2.90h-5.75zM630.34 449.77h2.87v2.90h-2.87zM690.70 449.77h2.87v2.90h-2.87zM334.28 446.71h2.87v2.90h-2.87zM342.90 446.71h11.50v2.90h-11.50zM363.02 446.71h5.75v2.90h-5.75zM386.02 446.71h2.87v2.90h-2.87zM429.13 446.71h2.87v2.90h-2.87zM460.75 446.71h2.87v2.90h-2.87zM489.49 446.71h2.87v2.90h-2.87zM523.99 446.71h2.87v2.90h-2.87zM575.72 446.71h5.75v2.90h-5.75zM587.22 446.71h5.75v2.90h-5.75zM601.59 446.71h2.87v2.90h-2.87zM633.21 446.71h2.87v2.90h-2.87zM314.16 443.66h2.87v2.90h-2.87zM337.15 443.66h2.87v2.90h-2.87zM345.78 443.66h2.87v2.90h-2.87zM363.02 443.66h2.87v2.90h-2.87zM443.50 443.66h2.87v2.90h-2.87zM449.25 443.66h2.87v2.90h-2.87zM478.00 443.66h2.87v2.90h-2.87zM526.86 443.66h2.87v2.90h-2.87zM561.35 443.66h2.87v2.90h-2.87zM567.10 443.66h2.87v2.90h-2.87zM299.79 440.60h5.75v2.90h-5.75zM351.53 440.60h5.75v2.90h-5.75zM472.25 440.60h2.87v2.90h-2.87zM480.87 440.60h2.87v2.90h-2.87zM544.11 440.60h2.87v2.90h-2.87zM552.73 440.60h2.87v2.90h-2.87zM302.66 437.55h2.87v2.90h-2.87zM328.53 437.55h2.87v2.90h-2.87zM334.28 437.55h11.50v2.90h-11.50zM351.53 437.55h2.87v2.90h-2.87zM357.27 437.55h2.87v2.90h-2.87zM377.40 437.55h2.87v2.90h-2.87zM388.89 437.55h2.87v2.90h-2.87zM394.64 437.55h2.87v2.90h-2.87zM409.01 437.55h2.87v2.90h-2.87zM455.00 437.55h8.62v2.90h-8.62zM472.25 437.55h2.87v2.90h-2.87zM486.62 437.55h8.62v2.90h-8.62zM535.48 437.55h2.87v2.90h-2.87zM569.98 437.55h8.62v2.90h-8.62zM581.47 437.55h2.87v2.90h-2.87zM587.22 437.55h5.75v2.90h-5.75zM601.59 437.55h2.87v2.90h-2.87zM337.15 434.49h2.87v2.90h-2.87zM342.90 434.49h11.50v2.90h-11.50zM357.27 434.49h2.87v2.90h-2.87zM374.52 434.49h2.87v2.90h-2.87zM414.76 434.49h2.87v2.90h-2.87zM449.25 434.49h2.87v2.90h-2.87zM472.25 434.49h2.87v2.90h-2.87zM483.75 434.49h2.87v2.90h-2.87zM495.24 434.49h2.87v2.90h-2.87zM638.96 434.49h2.87v2.90h-2.87zM834.41 434.49h2.87v2.90h-2.87zM308.41 431.44h2.87v2.90h-2.87zM331.41 431.44h5.75v2.90h-5.75zM340.03 431.44h2.87v2.90h-2.87zM354.40 431.44h2.87v2.90h-2.87zM377.40 431.44h2.87v2.90h-2.87zM383.14 431.44h2.87v2.90h-2.87zM440.63 431.44h2.87v2.90h-2.87zM452.13 431.44h2.87v2.90h-2.87zM457.88 431.44h2.87v2.90h-2.87zM466.50 431.44h2.87v2.90h-2.87zM486.62 431.44h5.75v2.90h-5.75zM512.49 431.44h2.87v2.90h-2.87zM564.23 431.44h2.87v2.90h-2.87zM584.35 431.44h2.87v2.90h-2.87zM607.34 431.44h2.87v2.90h-2.87zM615.96 431.44h2.87v2.90h-2.87zM308.41 428.38h5.75v2.90h-5.75zM325.66 428.38h2.87v2.90h-2.87zM334.28 428.38h8.62v2.90h-8.62zM348.65 428.38h5.75v2.90h-5.75zM357.27 428.38h2.87v2.90h-2.87zM365.90 428.38h2.87v2.90h-2.87zM432.01 428.38h2.87v2.90h-2.87zM440.63 428.38h5.75v2.90h-5.75zM449.25 428.38h2.87v2.90h-2.87zM455.00 428.38h2.87v2.90h-2.87zM463.63 428.38h2.87v2.90h-2.87zM469.37 428.38h8.62v2.90h-8.62zM492.37 428.38h5.75v2.90h-5.75zM535.48 428.38h2.87v2.90h-2.87zM541.23 428.38h2.87v2.90h-2.87zM558.48 428.38h2.87v2.90h-2.87zM314.16 425.32h2.87v2.90h-2.87zM325.66 425.32h22.99v2.90h-22.99zM351.53 425.32h2.87v2.90h-2.87zM388.89 425.32h2.87v2.90h-2.87zM394.64 425.32h2.87v2.90h-2.87zM406.14 425.32h2.87v2.90h-2.87zM414.76 425.32h2.87v2.90h-2.87zM437.76 425.32h2.87v2.90h-2.87zM455.00 425.32h2.87v2.90h-2.87zM466.50 425.32h5.75v2.90h-5.75zM483.75 425.32h2.87v2.90h-2.87zM492.37 425.32h2.87v2.90h-2.87zM561.35 425.32h2.87v2.90h-2.87zM569.98 425.32h2.87v2.90h-2.87zM607.34 425.32h2.87v2.90h-2.87zM314.16 422.27h2.87v2.90h-2.87zM328.53 422.27h2.87v2.90h-2.87zM334.28 422.27h5.75v2.90h-5.75zM342.90 422.27h2.87v2.90h-2.87zM388.89 422.27h2.87v2.90h-2.87zM440.63 422.27h2.87v2.90h-2.87zM446.38 422.27h8.62v2.90h-8.62zM457.88 422.27h2.87v2.90h-2.87zM509.61 422.27h2.87v2.90h-2.87zM581.47 422.27h2.87v2.90h-2.87zM687.82 422.27h2.87v2.90h-2.87zM317.03 419.21h2.87v2.90h-2.87zM325.66 419.21h8.62v2.90h-8.62zM337.15 419.21h14.37v2.90h-14.37zM357.27 419.21h2.87v2.90h-2.87zM383.14 419.21h2.87v2.90h-2.87zM388.89 419.21h2.87v2.90h-2.87zM411.89 419.21h2.87v2.90h-2.87zM423.38 419.21h2.87v2.90h-2.87zM432.01 419.21h5.75v2.90h-5.75zM440.63 419.21h2.87v2.90h-2.87zM449.25 419.21h2.87v2.90h-2.87zM457.88 419.21h5.75v2.90h-5.75zM466.50 419.21h2.87v2.90h-2.87zM475.12 419.21h2.87v2.90h-2.87zM546.98 419.21h2.87v2.90h-2.87zM317.03 416.16h5.75v2.90h-5.75zM325.66 416.16h8.62v2.90h-8.62zM360.15 416.16h2.87v2.90h-2.87zM371.65 416.16h2.87v2.90h-2.87zM437.76 416.16h5.75v2.90h-5.75zM446.38 416.16h2.87v2.90h-2.87zM455.00 416.16h2.87v2.90h-2.87zM478.00 416.16h2.87v2.90h-2.87zM679.20 416.16h2.87v2.90h-2.87zM317.03 413.10h2.87v2.90h-2.87zM322.78 413.10h2.87v2.90h-2.87zM331.41 413.10h17.25v2.90h-17.25zM354.40 413.10h2.87v2.90h-2.87zM377.40 413.10h2.87v2.90h-2.87zM411.89 413.10h2.87v2.90h-2.87zM417.64 413.10h11.50v2.90h-11.50zM440.63 413.10h2.87v2.90h-2.87zM449.25 413.10h2.87v2.90h-2.87zM455.00 413.10h5.75v2.90h-5.75zM469.37 413.10h2.87v2.90h-2.87zM509.61 413.10h2.87v2.90h-2.87zM555.60 413.10h2.87v2.90h-2.87zM564.23 413.10h2.87v2.90h-2.87zM598.72 413.10h2.87v2.90h-2.87zM322.78 410.05h5.75v2.90h-5.75zM334.28 410.05h2.87v2.90h-2.87zM342.90 410.05h2.87v2.90h-2.87zM383.14 410.05h5.75v2.90h-5.75zM414.76 410.05h2.87v2.90h-2.87zM437.76 410.05h2.87v2.90h-2.87zM446.38 410.05h2.87v2.90h-2.87zM455.00 410.05h2.87v2.90h-2.87zM538.36 410.05h2.87v2.90h-2.87zM546.98 410.05h2.87v2.90h-2.87zM555.60 410.05h2.87v2.90h-2.87zM569.98 410.05h2.87v2.90h-2.87zM325.66 406.99h5.75v2.90h-5.75zM334.28 406.99h5.75v2.90h-5.75zM342.90 406.99h2.87v2.90h-2.87zM420.51 406.99h2.87v2.90h-2.87zM440.63 406.99h2.87v2.90h-2.87zM446.38 406.99h2.87v2.90h-2.87zM489.49 406.99h2.87v2.90h-2.87zM523.99 406.99h2.87v2.90h-2.87zM572.85 406.99h2.87v2.90h-2.87zM325.66 403.93h2.87v2.90h-2.87zM331.41 403.93h5.75v2.90h-5.75zM348.65 403.93h2.87v2.90h-2.87zM360.15 403.93h2.87v2.90h-2.87zM386.02 403.93h2.87v2.90h-2.87zM429.13 403.93h2.87v2.90h-2.87zM446.38 403.93h2.87v2.90h-2.87zM463.63 403.93h8.62v2.90h-8.62zM325.66 400.88h11.50v2.90h-11.50zM340.03 400.88h5.75v2.90h-5.75zM406.14 400.88h5.75v2.90h-5.75zM449.25 400.88h2.87v2.90h-2.87zM466.50 400.88h2.87v2.90h-2.87zM495.24 400.88h2.87v2.90h-2.87zM535.48 400.88h2.87v2.90h-2.87zM328.53 397.82h8.62v2.90h-8.62zM345.78 397.82h2.87v2.90h-2.87zM409.01 397.82h2.87v2.90h-2.87zM452.13 397.82h2.87v2.90h-2.87zM331.41 394.77h5.75v2.90h-5.75zM345.78 394.77h2.87v2.90h-2.87zM354.40 394.77h2.87v2.90h-2.87zM446.38 394.77h2.87v2.90h-2.87zM463.63 394.77h2.87v2.90h-2.87zM331.41 391.71h8.62v2.90h-8.62zM374.52 391.71h2.87v2.90h-2.87zM391.77 391.71h2.87v2.90h-2.87zM414.76 391.71h2.87v2.90h-2.87zM423.38 391.71h5.75v2.90h-5.75zM437.76 391.71h2.87v2.90h-2.87zM463.63 391.71h2.87v2.90h-2.87zM521.11 391.71h2.87v2.90h-2.87zM357.27 388.65h2.87v2.90h-2.87zM363.02 388.65h2.87v2.90h-2.87zM400.39 388.65h2.87v2.90h-2.87zM411.89 388.65h5.75v2.90h-5.75zM429.13 388.65h2.87v2.90h-2.87zM434.88 388.65h2.87v2.90h-2.87zM492.37 388.65h2.87v2.90h-2.87zM506.74 388.65h5.75v2.90h-5.75zM411.89 385.60h5.75v2.90h-5.75zM426.26 385.60h2.87v2.90h-2.87zM590.10 385.60h2.87v2.90h-2.87zM348.65 382.54h2.87v2.90h-2.87zM365.90 382.54h2.87v2.90h-2.87zM409.01 382.54h5.75v2.90h-5.75zM636.09 382.54h2.87v2.90h-2.87zM340.03 379.49h2.87v2.90h-2.87zM357.27 379.49h2.87v2.90h-2.87zM417.64 379.49h2.87v2.90h-2.87zM434.88 379.49h2.87v2.90h-2.87zM440.63 379.49h2.87v2.90h-2.87zM463.63 379.49h2.87v2.90h-2.87zM340.03 376.43h5.75v2.90h-5.75zM374.52 376.43h2.87v2.90h-2.87zM383.14 376.43h2.87v2.90h-2.87zM397.52 376.43h2.87v2.90h-2.87zM403.26 376.43h2.87v2.90h-2.87zM409.01 376.43h2.87v2.90h-2.87zM426.26 376.43h2.87v2.90h-2.87zM437.76 376.43h2.87v2.90h-2.87zM489.49 376.43h2.87v2.90h-2.87zM503.87 376.43h2.87v2.90h-2.87zM736.69 376.43h2.87v2.90h-2.87zM368.77 373.38h2.87v2.90h-2.87zM377.40 373.38h2.87v2.90h-2.87zM394.64 373.38h2.87v2.90h-2.87zM414.76 373.38h5.75v2.90h-5.75zM426.26 373.38h2.87v2.90h-2.87zM432.01 373.38h2.87v2.90h-2.87zM601.59 373.38h2.87v2.90h-2.87zM788.42 373.38h2.87v2.90h-2.87zM414.76 370.32h2.87v2.90h-2.87zM555.60 370.32h2.87v2.90h-2.87zM348.65 367.26h2.87v2.90h-2.87zM394.64 367.26h2.87v2.90h-2.87zM417.64 367.26h2.87v2.90h-2.87zM446.38 367.26h2.87v2.90h-2.87zM495.24 367.26h2.87v2.90h-2.87zM503.87 367.26h2.87v2.90h-2.87zM351.53 364.21h2.87v2.90h-2.87zM365.90 364.21h5.75v2.90h-5.75zM400.39 364.21h2.87v2.90h-2.87zM423.38 364.21h2.87v2.90h-2.87zM437.76 364.21h5.75v2.90h-5.75zM483.75 364.21h2.87v2.90h-2.87zM492.37 364.21h2.87v2.90h-2.87zM509.61 364.21h2.87v2.90h-2.87zM365.90 361.15h5.75v2.90h-5.75zM406.14 361.15h2.87v2.90h-2.87zM725.19 361.15h2.87v2.90h-2.87zM386.02 358.10h2.87v2.90h-2.87zM403.26 358.10h2.87v2.90h-2.87zM409.01 358.10h2.87v2.90h-2.87zM414.76 358.10h2.87v2.90h-2.87zM420.51 358.10h2.87v2.90h-2.87zM486.62 358.10h2.87v2.90h-2.87zM492.37 358.10h2.87v2.90h-2.87zM354.40 355.04h5.75v2.90h-5.75zM365.90 355.04h5.75v2.90h-5.75zM411.89 355.04h5.75v2.90h-5.75zM360.15 351.99h2.87v2.90h-2.87zM423.38 351.99h2.87v2.90h-2.87zM460.75 351.99h2.87v2.90h-2.87zM489.49 351.99h2.87v2.90h-2.87zM500.99 351.99h2.87v2.90h-2.87zM386.02 348.93h2.87v2.90h-2.87zM400.39 348.93h8.62v2.90h-8.62zM411.89 348.93h2.87v2.90h-2.87zM434.88 348.93h2.87v2.90h-2.87zM449.25 348.93h2.87v2.90h-2.87zM604.47 348.93h2.87v2.90h-2.87zM705.07 348.93h2.87v2.90h-2.87zM377.40 345.87h2.87v2.90h-2.87zM383.14 342.82h2.87v2.90h-2.87zM394.64 342.82h2.87v2.90h-2.87zM403.26 342.82h2.87v2.90h-2.87zM409.01 342.82h2.87v2.90h-2.87zM452.13 342.82h5.75v2.90h-5.75zM615.96 342.82h2.87v2.90h-2.87zM388.89 339.76h2.87v2.90h-2.87zM434.88 339.76h2.87v2.90h-2.87zM368.77 336.71h2.87v2.90h-2.87zM394.64 336.71h8.62v2.90h-8.62zM409.01 336.71h5.75v2.90h-5.75zM475.12 336.71h2.87v2.90h-2.87zM552.73 336.71h2.87v2.90h-2.87zM371.65 333.65h5.75v2.90h-5.75zM409.01 333.65h2.87v2.90h-2.87zM437.76 333.65h2.87v2.90h-2.87zM483.75 333.65h2.87v2.90h-2.87zM374.52 330.60h5.75v2.90h-5.75zM417.64 330.60h2.87v2.90h-2.87zM460.75 330.60h2.87v2.90h-2.87zM466.50 330.60h2.87v2.90h-2.87zM552.73 330.60h2.87v2.90h-2.87zM388.89 327.54h2.87v2.90h-2.87zM409.01 327.54h2.87v2.90h-2.87zM443.50 327.54h2.87v2.90h-2.87zM463.63 327.54h2.87v2.90h-2.87zM469.37 327.54h2.87v2.90h-2.87zM377.40 324.48h5.75v2.90h-5.75zM391.77 324.48h2.87v2.90h-2.87zM457.88 324.48h2.87v2.90h-2.87zM489.49 324.48h2.87v2.90h-2.87zM377.40 321.43h2.87v2.90h-2.87zM426.26 321.43h2.87v2.90h-2.87zM386.02 318.37h2.87v2.90h-2.87zM391.77 318.37h2.87v2.90h-2.87zM417.64 318.37h2.87v2.90h-2.87zM383.14 315.32h2.87v2.90h-2.87zM394.64 315.32h2.87v2.90h-2.87zM409.01 315.32h5.75v2.90h-5.75zM452.13 315.32h2.87v2.90h-2.87zM463.63 315.32h2.87v2.90h-2.87zM394.64 312.26h2.87v2.90h-2.87zM417.64 312.26h2.87v2.90h-2.87zM383.14 309.21h2.87v2.90h-2.87zM426.26 309.21h2.87v2.90h-2.87zM515.36 309.21h2.87v2.90h-2.87zM417.64 306.15h2.87v2.90h-2.87zM546.98 306.15h2.87v2.90h-2.87zM388.89 300.04h5.75v2.90h-5.75zM406.14 300.04h2.87v2.90h-2.87zM423.38 300.04h2.87v2.90h-2.87zM437.76 300.04h2.87v2.90h-2.87zM443.50 296.98h2.87v2.90h-2.87zM751.06 296.98h2.87v2.90h-2.87zM417.64 293.93h2.87v2.90h-2.87zM397.52 290.87h2.87v2.90h-2.87zM546.98 290.87h2.87v2.90h-2.87zM434.88 287.82h2.87v2.90h-2.87zM443.50 281.70h2.87v2.90h-2.87zM432.01 278.65h2.87v2.90h-2.87zM440.63 275.59h2.87v2.90h-2.87zM446.38 275.59h2.87v2.90h-2.87zM409.01 272.54h2.87v2.90h-2.87zM432.01 272.54h2.87v2.90h-2.87zM432.01 257.26h2.87v2.90h-2.87zM420.51 254.20h2.87v2.90h-2.87zM426.26 251.15h5.75v2.90h-5.75zM455.00 245.03h2.87v2.90h-2.87zM440.63 238.92h2.87v2.90h-2.87zM469.37 238.92h2.87v2.90h-2.87zM463.63 235.87h2.87v2.90h-2.87zM449.25 214.48h2.87v2.90h-2.87zM452.13 205.31h2.87v2.90h-2.87zM455.00 202.25h2.87v2.90h-2.87zM756.81 196.14h2.87v2.90h-2.87zM480.87 180.86h2.87v2.90h-2.87zM486.62 153.36h2.87v2.90h-2.87zM595.84 150.31h2.87v2.90h-2.87zM492.37 147.25h2.87v2.90h-2.87zM521.11 113.64h2.87v2.90h-2.87zM535.48 101.41h2.87v2.90h-2.87zM523.99 98.36h2.87v2.90h-2.87zM822.92 98.36h2.87v2.90h-2.87z"/>
<path fill="#2E00FA" d="M167.57 691.17h2.87v2.90h-2.87zM170.44 688.12h2.87v2.90h-2.87zM170.44 685.06h2.87v2.90h-2.87zM173.32 682.01h2.87v2.90h-2.87zM173.32 678.95h2.87v2.90h-2.87zM150.32 675.90h2.87v2.90h-2.87zM170.44 669.78h2.87v2.90h-2.87zM167.57 666.73h5.75v2.90h-5.75zM167.57 663.67h2.87v2.90h-2.87zM161.82 660.62h8.62v2.90h-8.62zM167.57 657.56h2.87v2.90h-2.87z"/>
<path fill="#0D14F5" d="M147.45 691.17h2.87v2.90h-2.87zM144.57 685.06h2.87v2.90h-2.87zM147.45 682.01h2.87v2.90h-2.87zM173.32 675.90h2.87v2.90h-2.87zM153.20 672.84h2.87v2.90h-2.87zM170.44 672.84h5.75v2.90h-5.75zM156.07 669.78h2.87v2.90h-2.87zM164.69 669.78h5.75v2.90h-5.75zM158.95 666.73h8.62v2.90h-8.62zM161.82 663.67h5.75v2.90h-5.75z"/>
<path fill="#2A46F5" d="M144.57 691.17h2.87v2.90h-2.87zM144.57 688.12h5.75v2.90h-5.75zM150.32 678.95h2.87v2.90h-2.87zM153.20 675.90h2.87v2.90h-2.87zM156.07 672.84h2.87v2.90h-2.87zM167.57 672.84h2.87v2.90h-2.87zM158.95 669.78h5.75v2.90h-5.75z"/>
<path fill="#4F86FA" d="M150.32 691.17h2.87v2.90h-2.87zM150.32 688.12h2.87v2.90h-2.87zM167.57 688.12h2.87v2.90h-2.87zM147.45 685.06h5.75v2.90h-5.75zM170.44 682.01h2.87v2.90h-2.87zM170.44 675.90h2.87v2.90h-2.87zM158.95 672.84h2.87v2.90h-2.87zM164.69 672.84h2.87v2.90h-2.87z"/>
<path fill="#6CB4FA" d="M153.20 685.06h2.87v2.90h-2.87zM150.32 682.01h5.75v2.90h-5.75zM153.20 678.95h2.87v2.90h-2.87zM170.44 678.95h2.87v2.90h-2.87zM156.07 675.90h5.75v2.90h-5.75zM164.69 675.90h5.75v2.90h-5.75zM161.82 672.84h2.87v2.90h-2.87z"/>
<path fill="#8FFFFA" d="M153.20 691.17h2.87v2.90h-2.87zM153.20 688.12h2.87v2.90h-2.87zM156.07 678.95h5.75v2.90h-5.75zM161.82 675.90h2.87v2.90h-2.87z"/>
<path fill="#8DFBC8" d="M164.69 691.17h2.87v2.90h-2.87zM156.07 682.01h2.87v2.90h-2.87zM161.82 678.95h2.87v2.90h-2.87z"/>
<path fill="#8BF971" d="M156.07 685.06h2.87v2.90h-2.87zM158.95 682.01h2.87v2.90h-2.87zM164.69 678.95h5.75v2.90h-5.75z"/>
<path fill="#8BF84F" d="M167.57 685.06h2.87v2.90h-2.87z"/>
<path fill="#8CF93C" d="M156.07 691.17h2.87v2.90h-2.87z"/>
<path fill="#8FF93B" d="M156.07 688.12h2.87v2.90h-2.87zM161.82 682.01h2.87v2.90h-2.87zM167.57 682.01h2.87v2.90h-2.87z"/>
<path fill="#A0FA3B" d="M158.95 685.06h2.87v2.90h-2.87z"/>
<path fill="#F8E83A" d="M158.95 688.12h2.87v2.90h-2.87zM164.69 688.12h2.87v2.90h-2.87zM164.69 682.01h2.87v2.90h-2.87z"/>
<path fill="#E9A42B" d="M161.82 691.17h2.87v2.90h-2.87zM161.82 685.06h2.87v2.90h-2.87z"/>
<path fill="#E2781F" d="M164.69 685.06h2.87v2.90h-2.87z"/>
<path fill="#DC0000" d="M158.95 691.17h2.87v2.90h-2.87zM161.82 688.12h2.87v2.90h-2.87z"/>
</g>
<rect x="1009.9" y="663.59" width="53.3" height="30.86" fill="#5600FA"/>
<rect x="1009.9" y="633.03" width="53.3" height="30.86" fill="#2E00FA"/>
<rect x="1009.9" y="602.48" width="53.3" height="30.86" fill="#0D14F5"/>
<rect x="1009.9" y="571.92" width="53.3" height="30.86" fill="#2A46F5"/>
<rect x="1009.9" y="541.36" width="53.3" height="30.86" fill="#4F86FA"/>
<rect x="1009.9" y="510.81" width="53.3" height="30.86" fill="#6CB4FA"/>
<rect x="1009.9" y="480.25" width="53.3" height="30.86" fill="#8FFFFA"/>
<rect x="1009.9" y="449.69" width="53.3" height="30.86" fill="#8DFBC8"/>
<rect x="1009.9" y="419.13" width="53.3" height="30.86" fill="#8BF971"/>
<rect x="1009.9" y="388.57" width="53.3" height="30.86" fill="#8BF84F"/>
<rect x="1009.9" y="358.02" width="53.3" height="30.86" fill="#8CF93C"/>
<rect x="1009.9" y="327.46" width="53.3" height="30.86" fill="#8FF93B"/>
<rect x="1009.9" y="296.90" width="53.3" height="30.86" fill="#A0FA3B"/>
<rect x="1009.9" y="266.35" width="53.3" height="30.86" fill="#B4FA39"/>
<rect x="1009.9" y="235.79" width="53.3" height="30.86" fill="#EAFB3D"/>
<rect x="1009.9" y="205.23" width="53.3" height="30.86" fill="#F8E83A"/>
<rect x="1009.9" y="174.67" width="53.3" height="30.86" fill="#E9A42B"/>
<rect x="1009.9" y="144.12" width="53.3" height="30.86" fill="#E2781F"/>
<rect x="1009.9" y="113.56" width="53.3" height="30.86" fill="#DD3510"/>
<rect x="1009.9" y="83.00" width="53.3" height="30.86" fill="#DC0000"/>
<line x1="1063.2" y1="82.8" x2="1063.2" y2="695.8" stroke="#000" stroke-width="3.5"/>
<line x1="1037.4" y1="694.1" x2="1063.2" y2="694.1" stroke="#000" stroke-width="3.1"/>
<text x="1079.5" y="707.0" font-size="32.6" textLength="17.4" lengthAdjust="spacingAndGlyphs">0</text>
<line x1="1037.4" y1="606.7" x2="1063.2" y2="606.7" stroke="#000" stroke-width="3.1"/>
<text x="1079.5" y="619.6" font-size="32.6" textLength="52.2" lengthAdjust="spacingAndGlyphs">100</text>
<line x1="1037.4" y1="519.2" x2="1063.2" y2="519.2" stroke="#000" stroke-width="3.1"/>
<text x="1079.5" y="532.1" font-size="32.6" textLength="52.2" lengthAdjust="spacingAndGlyphs">200</text>
<line x1="1037.4" y1="431.7" x2="1063.2" y2="431.7" stroke="#000" stroke-width="3.1"/>
<text x="1079.5" y="444.6" font-size="32.6" textLength="52.2" lengthAdjust="spacingAndGlyphs">300</text>
<line x1="1037.4" y1="344.2" x2="1063.2" y2="344.2" stroke="#000" stroke-width="3.1"/>
<text x="1079.5" y="357.1" font-size="32.6" textLength="52.2" lengthAdjust="spacingAndGlyphs">400</text>
<line x1="1037.4" y1="256.7" x2="1063.2" y2="256.7" stroke="#000" stroke-width="3.1"/>
<text x="1079.5" y="269.6" font-size="32.6" textLength="52.2" lengthAdjust="spacingAndGlyphs">500</text>
<line x1="1037.4" y1="169.2" x2="1063.2" y2="169.2" stroke="#000" stroke-width="3.1"/>
<text x="1079.5" y="182.1" font-size="32.6" textLength="52.2" lengthAdjust="spacingAndGlyphs">600</text>
<path d="M141.70 694.15V83.00H1004.00V694.15" fill="none" stroke="#000" stroke-width="3.3" stroke-linejoin="round"/>
<path d="M140.05 694.15H1005.65" fill="none" stroke="#000" stroke-width="3.3"/>
<path d="M141.7 694.1v-18.5M141.7 83.0v18.5M180.9 694.1v-9.2M180.9 83.0v9.2M220.1 694.1v-9.2M220.1 83.0v9.2M259.3 694.1v-9.2M259.3 83.0v9.2M298.5 694.1v-18.5M298.5 83.0v18.5M337.7 694.1v-9.2M337.7 83.0v9.2M376.9 694.1v-9.2M376.9 83.0v9.2M416.1 694.1v-9.2M416.1 83.0v9.2M455.3 694.1v-18.5M455.3 83.0v18.5M494.5 694.1v-9.2M494.5 83.0v9.2M533.7 694.1v-9.2M533.7 83.0v9.2M572.8 694.1v-9.2M572.8 83.0v9.2M612.0 694.1v-18.5M612.0 83.0v18.5M651.2 694.1v-9.2M651.2 83.0v9.2M690.4 694.1v-9.2M690.4 83.0v9.2M729.6 694.1v-9.2M729.6 83.0v9.2M768.8 694.1v-18.5M768.8 83.0v18.5M808.0 694.1v-9.2M808.0 83.0v9.2M847.2 694.1v-9.2M847.2 83.0v9.2M886.4 694.1v-9.2M886.4 83.0v9.2M925.6 694.1v-18.5M925.6 83.0v18.5M964.8 694.1v-9.2M964.8 83.0v9.2M1004.0 694.1v-9.2M1004.0 83.0v9.2M141.7 694.1h25.0M1004.0 694.1h-25.0M141.7 669.7h12.8M1004.0 669.7h-12.8M141.7 645.3h12.8M1004.0 645.3h-12.8M141.7 620.8h12.8M1004.0 620.8h-12.8M141.7 596.4h12.8M1004.0 596.4h-12.8M141.7 571.9h25.0M1004.0 571.9h-25.0M141.7 547.5h12.8M1004.0 547.5h-12.8M141.7 523.0h12.8M1004.0 523.0h-12.8M141.7 498.6h12.8M1004.0 498.6h-12.8M141.7 474.1h12.8M1004.0 474.1h-12.8M141.7 449.7h25.0M1004.0 449.7h-25.0M141.7 425.2h12.8M1004.0 425.2h-12.8M141.7 400.8h12.8M1004.0 400.8h-12.8M141.7 376.4h12.8M1004.0 376.4h-12.8M141.7 351.9h12.8M1004.0 351.9h-12.8M141.7 327.5h25.0M1004.0 327.5h-25.0M141.7 303.0h12.8M1004.0 303.0h-12.8M141.7 278.6h12.8M1004.0 278.6h-12.8M141.7 254.1h12.8M1004.0 254.1h-12.8M141.7 229.7h12.8M1004.0 229.7h-12.8M141.7 205.2h25.0M1004.0 205.2h-25.0M141.7 180.8h12.8M1004.0 180.8h-12.8M141.7 156.3h12.8M1004.0 156.3h-12.8M141.7 131.9h12.8M1004.0 131.9h-12.8M141.7 107.4h12.8M1004.0 107.4h-12.8M141.7 83.0h25.0M1004.0 83.0h-25.0" stroke="#000" stroke-width="3.2" fill="none"/>
<text x="141.1" y="733.1" font-size="32.6" text-anchor="middle" textLength="17.4" lengthAdjust="spacingAndGlyphs">0</text>
<text x="297.9" y="733.1" font-size="32.6" text-anchor="middle" textLength="69.6" lengthAdjust="spacingAndGlyphs">2000</text>
<text x="454.7" y="733.1" font-size="32.6" text-anchor="middle" textLength="69.6" lengthAdjust="spacingAndGlyphs">4000</text>
<text x="611.4" y="733.1" font-size="32.6" text-anchor="middle" textLength="69.6" lengthAdjust="spacingAndGlyphs">6000</text>
<text x="768.2" y="733.1" font-size="32.6" text-anchor="middle" textLength="69.6" lengthAdjust="spacingAndGlyphs">8000</text>
<text x="925.0" y="733.1" font-size="32.6" text-anchor="middle" textLength="87.0" lengthAdjust="spacingAndGlyphs">10000</text>
<text x="123.6" y="705.9" font-size="32.6" text-anchor="end" textLength="17.4" lengthAdjust="spacingAndGlyphs">0</text>
<text x="123.6" y="583.7" font-size="32.6" text-anchor="end" textLength="69.6" lengthAdjust="spacingAndGlyphs">1000</text>
<text x="123.6" y="461.5" font-size="32.6" text-anchor="end" textLength="69.6" lengthAdjust="spacingAndGlyphs">2000</text>
<text x="123.6" y="339.3" font-size="32.6" text-anchor="end" textLength="69.6" lengthAdjust="spacingAndGlyphs">3000</text>
<text x="123.6" y="217.0" font-size="32.6" text-anchor="end" textLength="69.6" lengthAdjust="spacingAndGlyphs">4000</text>
<text x="123.6" y="94.8" font-size="32.6" text-anchor="end" textLength="69.6" lengthAdjust="spacingAndGlyphs">5000</text>
<text x="30.6" y="35.6" font-size="35.7" font-weight="bold">dE/dx pair 1, all particles</text>
<text x="1003.9" y="780.5" font-size="40" text-anchor="end">Si1(65 um) + Si2(1500 um) [keV]</text>
<text transform="translate(38.2,379.6) rotate(-90)" font-size="40">Si1(65 um) [keV]</text>
<text x="49.8" y="827.6" font-size="37.5">Assumed energy resolution: 140 keV for Si1 and 40 keV for Si2</text>
<g fill="#DA6450" style="fill:#DA6450">
<text x="506.5" y="409.9" font-size="37.5" style="fill:#DC6449;stroke:#DC6449;stroke-width:0.8px">Triton</text>
<text x="440.4" y="472.1" font-size="37.5" style="fill:#DC6449;stroke:#DC6449;stroke-width:0.8px">Deuteron</text>
<text x="377" y="547.2" font-size="37.5" style="fill:#DC6449;stroke:#DC6449;stroke-width:0.8px">Proton</text>
</g>
</svg></body></html>
